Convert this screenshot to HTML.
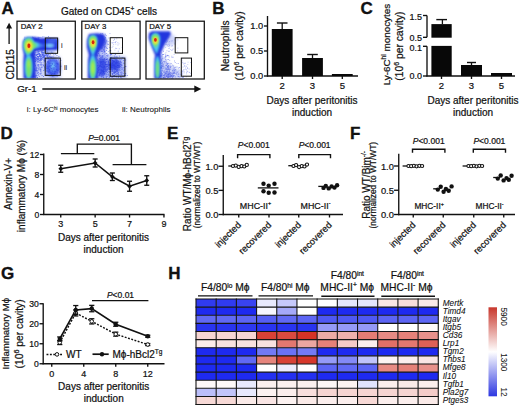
<!DOCTYPE html>
<html><head><meta charset="utf-8"><style>
html,body{margin:0;padding:0;background:#fff;}
svg{display:block;font-family:"Liberation Sans", sans-serif;}
text{fill:#111;stroke:#111;stroke-width:0.22px;}
</style></head><body>
<svg width="520" height="407" viewBox="0 0 520 407">
<text x="1.6" y="13.5" font-size="17" text-anchor="start" font-weight="bold" font-style="normal" style="stroke-width:0.35px">A</text>
<text x="212.3" y="14" font-size="17" text-anchor="start" font-weight="bold" font-style="normal" style="stroke-width:0.35px">B</text>
<text x="360.6" y="13.6" font-size="17" text-anchor="start" font-weight="bold" font-style="normal" style="stroke-width:0.35px">C</text>
<text x="0.6" y="139" font-size="17" text-anchor="start" font-weight="bold" font-style="normal" style="stroke-width:0.35px">D</text>
<text x="166.9" y="139" font-size="17" text-anchor="start" font-weight="bold" font-style="normal" style="stroke-width:0.35px">E</text>
<text x="350" y="139" font-size="17" text-anchor="start" font-weight="bold" font-style="normal" style="stroke-width:0.35px">F</text>
<text x="0.9" y="279.4" font-size="17" text-anchor="start" font-weight="bold" font-style="normal" style="stroke-width:0.35px">G</text>
<text x="168.3" y="279" font-size="17" text-anchor="start" font-weight="bold" font-style="normal" style="stroke-width:0.35px">H</text>
<text x="61" y="14.5" font-size="10" text-anchor="start" font-weight="normal" font-style="normal" >Gated on CD45<tspan dy="-3.5" font-size="6.5">+</tspan><tspan dy="3.5"> cells</tspan></text>
<defs>
<filter id="b1" x="-30%" y="-30%" width="160%" height="160%"><feGaussianBlur stdDeviation="0.8"/></filter>
<filter id="b2" x="-30%" y="-30%" width="160%" height="160%"><feGaussianBlur stdDeviation="1.6"/></filter>
<filter id="b05" x="-30%" y="-30%" width="160%" height="160%"><feGaussianBlur stdDeviation="0.5"/></filter>
<filter id="bd" x="-5%" y="-5%" width="110%" height="110%"><feGaussianBlur stdDeviation="0.35"/></filter>
<clipPath id="c1"><rect x="17.6" y="21.8" width="57.1" height="56.6"/></clipPath>
<clipPath id="c2"><rect x="82.4" y="21.8" width="57.1" height="56.6"/></clipPath>
<clipPath id="c3"><rect x="146.6" y="21.8" width="57.1" height="56.6"/></clipPath>
</defs>
<g clip-path="url(#c1)">
<path d="M31,50 L46,54 L61,57 L61,79 L30,79 Z" fill="#c4ccf8" fill-opacity="0.8" filter="url(#b2)"/>
<path d="M38.6,73.3h0.9v0.9h-0.9zM32.4,70.9h0.9v0.9h-0.9zM36.4,59.6h0.9v0.9h-0.9zM49.4,63.4h0.9v0.9h-0.9zM37.7,68.6h0.9v0.9h-0.9zM44.8,61.7h0.9v0.9h-0.9zM41.5,53.2h0.9v0.9h-0.9zM35.8,58.1h0.9v0.9h-0.9zM37.0,59.1h0.9v0.9h-0.9zM37.5,64.1h0.9v0.9h-0.9zM42.5,54.4h0.9v0.9h-0.9zM40.0,59.2h0.9v0.9h-0.9zM40.8,66.7h0.9v0.9h-0.9zM44.3,59.9h0.9v0.9h-0.9zM34.4,56.6h0.9v0.9h-0.9zM32.1,61.6h0.9v0.9h-0.9zM33.3,71.6h0.9v0.9h-0.9zM36.3,57.3h0.9v0.9h-0.9zM44.4,55.4h0.9v0.9h-0.9zM37.1,56.0h0.9v0.9h-0.9zM41.8,51.8h0.9v0.9h-0.9zM37.5,65.2h0.9v0.9h-0.9zM47.2,70.5h0.9v0.9h-0.9zM35.1,64.7h0.9v0.9h-0.9zM35.2,76.8h0.9v0.9h-0.9zM39.3,60.1h0.9v0.9h-0.9zM36.6,60.2h0.9v0.9h-0.9zM36.9,54.1h0.9v0.9h-0.9zM37.1,65.4h0.9v0.9h-0.9zM36.8,60.7h0.9v0.9h-0.9zM40.0,70.7h0.9v0.9h-0.9zM35.3,58.6h0.9v0.9h-0.9zM49.6,66.8h0.9v0.9h-0.9zM42.7,56.7h0.9v0.9h-0.9zM31.0,64.7h0.9v0.9h-0.9zM33.0,52.5h0.9v0.9h-0.9zM30.2,57.4h0.9v0.9h-0.9zM44.6,58.1h0.9v0.9h-0.9zM38.4,69.6h0.9v0.9h-0.9zM45.2,60.5h0.9v0.9h-0.9zM37.1,61.6h0.9v0.9h-0.9zM31.2,68.0h0.9v0.9h-0.9zM46.2,63.6h0.9v0.9h-0.9zM36.6,59.7h0.9v0.9h-0.9zM33.3,54.8h0.9v0.9h-0.9zM35.6,54.4h0.9v0.9h-0.9zM40.1,62.4h0.9v0.9h-0.9zM38.0,71.9h0.9v0.9h-0.9zM33.6,57.7h0.9v0.9h-0.9zM34.6,67.9h0.9v0.9h-0.9zM32.5,70.9h0.9v0.9h-0.9zM36.2,70.3h0.9v0.9h-0.9zM38.2,59.9h0.9v0.9h-0.9zM36.4,67.9h0.9v0.9h-0.9zM39.5,55.7h0.9v0.9h-0.9zM40.5,70.9h0.9v0.9h-0.9zM37.1,58.0h0.9v0.9h-0.9zM35.6,69.3h0.9v0.9h-0.9zM41.2,53.6h0.9v0.9h-0.9zM40.2,57.7h0.9v0.9h-0.9zM33.5,73.2h0.9v0.9h-0.9zM42.9,55.5h0.9v0.9h-0.9zM38.5,66.5h0.9v0.9h-0.9zM34.2,60.9h0.9v0.9h-0.9zM40.0,68.6h0.9v0.9h-0.9zM39.9,54.2h0.9v0.9h-0.9zM41.4,67.4h0.9v0.9h-0.9zM39.3,55.1h0.9v0.9h-0.9zM34.5,69.7h0.9v0.9h-0.9zM32.6,66.5h0.9v0.9h-0.9zM41.1,59.5h0.9v0.9h-0.9zM52.4,62.6h0.9v0.9h-0.9zM41.8,59.2h0.9v0.9h-0.9zM34.2,52.7h0.9v0.9h-0.9zM36.7,70.0h0.9v0.9h-0.9zM38.3,65.3h0.9v0.9h-0.9zM33.8,58.1h0.9v0.9h-0.9zM38.7,59.5h0.9v0.9h-0.9zM45.6,54.1h0.9v0.9h-0.9zM49.3,53.2h0.9v0.9h-0.9zM44.4,55.0h0.9v0.9h-0.9zM47.9,63.2h0.9v0.9h-0.9zM40.4,68.7h0.9v0.9h-0.9zM34.2,52.6h0.9v0.9h-0.9zM33.8,56.7h0.9v0.9h-0.9zM35.6,66.8h0.9v0.9h-0.9zM43.0,76.0h0.9v0.9h-0.9zM47.6,54.3h0.9v0.9h-0.9zM38.3,61.0h0.9v0.9h-0.9zM42.5,64.2h0.9v0.9h-0.9zM37.1,72.9h0.9v0.9h-0.9zM32.0,66.7h0.9v0.9h-0.9zM38.1,61.5h0.9v0.9h-0.9zM40.9,63.6h0.9v0.9h-0.9zM39.6,64.4h0.9v0.9h-0.9zM49.6,59.2h0.9v0.9h-0.9zM44.1,67.5h0.9v0.9h-0.9zM35.9,69.2h0.9v0.9h-0.9zM32.9,72.4h0.9v0.9h-0.9zM33.1,57.6h0.9v0.9h-0.9zM39.9,69.5h0.9v0.9h-0.9zM43.4,70.0h0.9v0.9h-0.9zM36.8,53.4h0.9v0.9h-0.9zM41.3,64.7h0.9v0.9h-0.9zM32.3,70.8h0.9v0.9h-0.9zM39.2,53.4h0.9v0.9h-0.9zM40.6,50.1h0.9v0.9h-0.9zM32.7,65.6h0.9v0.9h-0.9zM33.6,63.6h0.9v0.9h-0.9zM43.7,66.1h0.9v0.9h-0.9zM43.4,58.6h0.9v0.9h-0.9zM46.5,52.5h0.9v0.9h-0.9zM37.5,72.0h0.9v0.9h-0.9zM45.9,73.5h0.9v0.9h-0.9zM37.2,50.5h0.9v0.9h-0.9zM44.4,69.2h0.9v0.9h-0.9zM41.3,62.2h0.9v0.9h-0.9zM38.3,59.3h0.9v0.9h-0.9zM40.3,64.2h0.9v0.9h-0.9zM40.8,58.1h0.9v0.9h-0.9zM49.4,64.5h0.9v0.9h-0.9zM46.4,74.0h0.9v0.9h-0.9zM45.5,58.5h0.9v0.9h-0.9zM38.5,59.7h0.9v0.9h-0.9zM38.8,51.3h0.9v0.9h-0.9zM37.4,57.8h0.9v0.9h-0.9zM42.9,65.0h0.9v0.9h-0.9zM38.2,67.7h0.9v0.9h-0.9zM38.0,74.5h0.9v0.9h-0.9zM38.1,53.0h0.9v0.9h-0.9zM33.9,68.7h0.9v0.9h-0.9zM34.3,69.6h0.9v0.9h-0.9zM44.1,67.3h0.9v0.9h-0.9zM44.1,60.4h0.9v0.9h-0.9zM37.9,56.7h0.9v0.9h-0.9zM34.7,52.4h0.9v0.9h-0.9zM40.7,58.9h0.9v0.9h-0.9zM46.2,70.5h0.9v0.9h-0.9zM44.3,56.6h0.9v0.9h-0.9zM39.8,68.5h0.9v0.9h-0.9zM40.5,73.3h0.9v0.9h-0.9zM36.3,68.0h0.9v0.9h-0.9zM35.3,75.5h0.9v0.9h-0.9zM33.9,58.4h0.9v0.9h-0.9zM38.3,63.9h0.9v0.9h-0.9zM32.2,63.1h0.9v0.9h-0.9zM40.7,69.5h0.9v0.9h-0.9zM33.5,76.0h0.9v0.9h-0.9zM41.3,51.7h0.9v0.9h-0.9zM41.8,54.9h0.9v0.9h-0.9zM33.8,63.3h0.9v0.9h-0.9zM38.9,76.2h0.9v0.9h-0.9zM40.7,56.7h0.9v0.9h-0.9zM39.7,68.5h0.9v0.9h-0.9zM41.6,75.0h0.9v0.9h-0.9zM35.6,70.7h0.9v0.9h-0.9zM37.7,58.2h0.9v0.9h-0.9zM47.5,71.4h0.9v0.9h-0.9zM36.5,70.2h0.9v0.9h-0.9zM30.1,55.5h0.9v0.9h-0.9zM43.4,62.4h0.9v0.9h-0.9zM31.6,66.0h0.9v0.9h-0.9zM40.0,73.6h0.9v0.9h-0.9zM43.7,59.5h0.9v0.9h-0.9zM35.1,60.8h0.9v0.9h-0.9zM36.6,75.2h0.9v0.9h-0.9zM47.5,74.2h0.9v0.9h-0.9zM40.3,59.8h0.9v0.9h-0.9zM43.4,58.9h0.9v0.9h-0.9zM35.5,75.0h0.9v0.9h-0.9zM37.0,77.0h0.9v0.9h-0.9zM46.7,58.8h0.9v0.9h-0.9zM35.1,61.0h0.9v0.9h-0.9zM32.4,62.3h0.9v0.9h-0.9zM34.5,59.7h0.9v0.9h-0.9zM32.8,51.9h0.9v0.9h-0.9zM36.3,58.2h0.9v0.9h-0.9zM41.0,59.9h0.9v0.9h-0.9zM33.3,74.5h0.9v0.9h-0.9zM31.8,55.4h0.9v0.9h-0.9zM34.0,54.0h0.9v0.9h-0.9zM36.6,67.2h0.9v0.9h-0.9zM46.6,68.0h0.9v0.9h-0.9zM38.2,50.7h0.9v0.9h-0.9zM37.6,53.5h0.9v0.9h-0.9zM37.4,70.8h0.9v0.9h-0.9zM39.2,60.1h0.9v0.9h-0.9zM33.5,61.8h0.9v0.9h-0.9zM38.7,53.6h0.9v0.9h-0.9zM35.0,69.9h0.9v0.9h-0.9zM31.0,75.9h0.9v0.9h-0.9zM41.6,66.6h0.9v0.9h-0.9zM40.4,64.6h0.9v0.9h-0.9zM39.5,67.3h0.9v0.9h-0.9zM35.2,59.2h0.9v0.9h-0.9zM34.8,65.5h0.9v0.9h-0.9zM30.3,60.0h0.9v0.9h-0.9zM39.4,68.5h0.9v0.9h-0.9zM38.3,59.8h0.9v0.9h-0.9zM43.6,59.2h0.9v0.9h-0.9zM30.5,58.1h0.9v0.9h-0.9zM36.0,55.0h0.9v0.9h-0.9zM42.4,54.0h0.9v0.9h-0.9zM30.2,53.4h0.9v0.9h-0.9zM48.3,62.2h0.9v0.9h-0.9zM34.3,53.1h0.9v0.9h-0.9zM31.4,60.5h0.9v0.9h-0.9zM40.6,72.4h0.9v0.9h-0.9zM44.9,64.4h0.9v0.9h-0.9zM34.0,54.3h0.9v0.9h-0.9zM40.5,59.0h0.9v0.9h-0.9zM43.4,64.7h0.9v0.9h-0.9zM38.3,65.6h0.9v0.9h-0.9zM32.6,78.3h0.9v0.9h-0.9zM36.9,57.5h0.9v0.9h-0.9zM43.1,52.5h0.9v0.9h-0.9zM46.5,55.7h0.9v0.9h-0.9zM37.6,53.8h0.9v0.9h-0.9zM42.1,54.6h0.9v0.9h-0.9zM38.3,51.6h0.9v0.9h-0.9z" fill="#2a40e6" fill-opacity="0.65" filter="url(#bd)"/>
<path d="M44.4,55.6h0.9v0.9h-0.9zM46.5,55.9h0.9v0.9h-0.9zM46.7,58.0h0.9v0.9h-0.9zM40.7,51.5h0.9v0.9h-0.9zM35.3,57.0h0.9v0.9h-0.9zM40.7,58.2h0.9v0.9h-0.9zM43.3,52.0h0.9v0.9h-0.9zM48.4,60.8h0.9v0.9h-0.9zM41.9,52.2h0.9v0.9h-0.9zM37.9,57.7h0.9v0.9h-0.9zM39.5,53.8h0.9v0.9h-0.9zM47.1,55.0h0.9v0.9h-0.9zM43.7,53.4h0.9v0.9h-0.9zM39.2,55.5h0.9v0.9h-0.9zM43.9,56.8h0.9v0.9h-0.9zM40.0,56.0h0.9v0.9h-0.9zM45.9,55.2h0.9v0.9h-0.9zM46.4,58.0h0.9v0.9h-0.9zM44.2,55.2h0.9v0.9h-0.9zM37.2,56.0h0.9v0.9h-0.9zM42.4,54.1h0.9v0.9h-0.9zM38.0,56.7h0.9v0.9h-0.9zM58.4,56.3h0.9v0.9h-0.9zM43.5,56.3h0.9v0.9h-0.9zM39.4,55.3h0.9v0.9h-0.9zM39.0,53.1h0.9v0.9h-0.9zM44.4,55.7h0.9v0.9h-0.9zM42.3,52.6h0.9v0.9h-0.9zM44.6,51.7h0.9v0.9h-0.9zM47.6,54.0h0.9v0.9h-0.9zM43.0,57.4h0.9v0.9h-0.9zM46.3,51.1h0.9v0.9h-0.9zM41.5,56.1h0.9v0.9h-0.9zM42.6,54.9h0.9v0.9h-0.9zM45.6,55.2h0.9v0.9h-0.9zM43.8,55.7h0.9v0.9h-0.9zM51.2,56.5h0.9v0.9h-0.9zM46.3,53.8h0.9v0.9h-0.9zM49.7,54.4h0.9v0.9h-0.9zM44.5,54.7h0.9v0.9h-0.9zM40.2,58.9h0.9v0.9h-0.9zM45.4,54.6h0.9v0.9h-0.9zM39.9,60.6h0.9v0.9h-0.9zM47.5,57.0h0.9v0.9h-0.9zM38.4,58.9h0.9v0.9h-0.9zM46.3,54.2h0.9v0.9h-0.9zM42.4,50.1h0.9v0.9h-0.9zM46.9,51.7h0.9v0.9h-0.9zM48.1,53.7h0.9v0.9h-0.9zM39.3,56.1h0.9v0.9h-0.9zM44.3,51.6h0.9v0.9h-0.9zM42.6,56.8h0.9v0.9h-0.9zM41.5,51.0h0.9v0.9h-0.9zM41.5,52.1h0.9v0.9h-0.9zM39.5,55.1h0.9v0.9h-0.9zM42.7,54.4h0.9v0.9h-0.9zM33.1,56.0h0.9v0.9h-0.9zM41.8,53.8h0.9v0.9h-0.9zM43.9,60.8h0.9v0.9h-0.9zM35.3,50.2h0.9v0.9h-0.9zM47.6,52.6h0.9v0.9h-0.9zM50.8,52.1h0.9v0.9h-0.9zM40.1,57.5h0.9v0.9h-0.9zM48.4,56.3h0.9v0.9h-0.9zM45.7,54.6h0.9v0.9h-0.9zM40.4,54.4h0.9v0.9h-0.9zM50.6,57.1h0.9v0.9h-0.9zM43.1,55.9h0.9v0.9h-0.9zM48.0,58.5h0.9v0.9h-0.9zM42.2,54.8h0.9v0.9h-0.9zM44.4,58.8h0.9v0.9h-0.9zM33.8,57.5h0.9v0.9h-0.9zM34.6,51.8h0.9v0.9h-0.9zM39.2,54.6h0.9v0.9h-0.9zM44.1,56.1h0.9v0.9h-0.9zM44.3,53.7h0.9v0.9h-0.9zM58.5,56.2h0.9v0.9h-0.9zM47.0,61.0h0.9v0.9h-0.9zM48.8,56.7h0.9v0.9h-0.9zM44.9,60.6h0.9v0.9h-0.9zM36.6,52.1h0.9v0.9h-0.9zM38.4,58.4h0.9v0.9h-0.9zM40.3,55.5h0.9v0.9h-0.9zM47.1,51.5h0.9v0.9h-0.9zM44.6,53.1h0.9v0.9h-0.9zM36.5,54.2h0.9v0.9h-0.9zM42.7,53.8h0.9v0.9h-0.9zM39.1,57.8h0.9v0.9h-0.9zM49.9,56.7h0.9v0.9h-0.9zM42.4,51.9h0.9v0.9h-0.9zM38.1,51.7h0.9v0.9h-0.9zM44.2,57.7h0.9v0.9h-0.9zM48.4,54.9h0.9v0.9h-0.9zM40.7,55.5h0.9v0.9h-0.9zM43.7,56.8h0.9v0.9h-0.9zM51.8,53.0h0.9v0.9h-0.9zM32.4,50.5h0.9v0.9h-0.9zM36.9,54.3h0.9v0.9h-0.9zM55.3,52.9h0.9v0.9h-0.9zM49.6,53.9h0.9v0.9h-0.9zM43.9,52.0h0.9v0.9h-0.9zM56.5,54.9h0.9v0.9h-0.9zM39.3,61.8h0.9v0.9h-0.9zM44.1,56.2h0.9v0.9h-0.9zM42.1,52.5h0.9v0.9h-0.9zM34.5,54.5h0.9v0.9h-0.9zM52.6,56.3h0.9v0.9h-0.9zM42.0,58.2h0.9v0.9h-0.9zM37.5,59.1h0.9v0.9h-0.9zM42.9,52.5h0.9v0.9h-0.9zM47.0,56.5h0.9v0.9h-0.9zM41.0,55.6h0.9v0.9h-0.9zM48.8,59.2h0.9v0.9h-0.9zM55.2,54.2h0.9v0.9h-0.9zM40.5,56.3h0.9v0.9h-0.9zM40.5,58.1h0.9v0.9h-0.9zM35.6,54.4h0.9v0.9h-0.9zM35.5,59.5h0.9v0.9h-0.9zM41.5,58.3h0.9v0.9h-0.9zM51.2,51.4h0.9v0.9h-0.9zM41.7,57.1h0.9v0.9h-0.9zM43.3,54.6h0.9v0.9h-0.9zM48.0,57.7h0.9v0.9h-0.9zM39.5,54.6h0.9v0.9h-0.9zM46.9,55.6h0.9v0.9h-0.9zM43.8,51.7h0.9v0.9h-0.9zM53.4,54.3h0.9v0.9h-0.9zM44.6,54.9h0.9v0.9h-0.9zM43.4,55.4h0.9v0.9h-0.9zM38.0,56.1h0.9v0.9h-0.9zM50.2,56.2h0.9v0.9h-0.9zM47.3,56.4h0.9v0.9h-0.9zM43.2,60.4h0.9v0.9h-0.9zM38.9,56.1h0.9v0.9h-0.9zM49.1,55.9h0.9v0.9h-0.9zM36.7,51.8h0.9v0.9h-0.9zM52.3,52.2h0.9v0.9h-0.9zM43.1,56.6h0.9v0.9h-0.9zM31.7,54.7h0.9v0.9h-0.9zM38.4,54.2h0.9v0.9h-0.9z" fill="#2a40e6" fill-opacity="0.65" filter="url(#bd)"/>
<path d="M36.5,40.4h0.9v0.9h-0.9zM41.6,38.4h0.9v0.9h-0.9zM39.2,36.9h0.9v0.9h-0.9zM29.8,41.5h0.9v0.9h-0.9zM37.8,41.4h0.9v0.9h-0.9zM30.1,39.3h0.9v0.9h-0.9zM32.1,42.2h0.9v0.9h-0.9zM38.2,37.4h0.9v0.9h-0.9zM39.4,39.6h0.9v0.9h-0.9zM33.1,42.8h0.9v0.9h-0.9zM26.0,42.6h0.9v0.9h-0.9zM34.9,39.6h0.9v0.9h-0.9zM29.2,38.6h0.9v0.9h-0.9zM31.2,40.2h0.9v0.9h-0.9zM43.1,42.2h0.9v0.9h-0.9zM31.0,42.2h0.9v0.9h-0.9zM48.1,36.1h0.9v0.9h-0.9zM33.5,38.7h0.9v0.9h-0.9zM39.3,39.2h0.9v0.9h-0.9zM27.6,43.1h0.9v0.9h-0.9zM34.1,41.8h0.9v0.9h-0.9zM49.7,38.1h0.9v0.9h-0.9zM33.5,42.3h0.9v0.9h-0.9zM35.4,41.3h0.9v0.9h-0.9zM39.8,40.9h0.9v0.9h-0.9zM36.8,41.0h0.9v0.9h-0.9zM26.2,39.3h0.9v0.9h-0.9zM40.5,37.0h0.9v0.9h-0.9zM36.3,39.8h0.9v0.9h-0.9zM40.3,40.8h0.9v0.9h-0.9zM31.3,40.2h0.9v0.9h-0.9zM34.2,39.8h0.9v0.9h-0.9zM32.0,36.8h0.9v0.9h-0.9zM37.3,40.7h0.9v0.9h-0.9zM36.2,38.4h0.9v0.9h-0.9zM37.3,39.4h0.9v0.9h-0.9zM43.2,39.2h0.9v0.9h-0.9zM33.9,40.8h0.9v0.9h-0.9zM35.4,41.3h0.9v0.9h-0.9zM37.9,41.0h0.9v0.9h-0.9zM39.5,40.8h0.9v0.9h-0.9zM40.5,39.8h0.9v0.9h-0.9zM26.7,40.4h0.9v0.9h-0.9zM35.5,40.5h0.9v0.9h-0.9zM30.4,43.4h0.9v0.9h-0.9zM37.6,36.8h0.9v0.9h-0.9zM28.7,40.7h0.9v0.9h-0.9zM29.1,41.1h0.9v0.9h-0.9zM38.0,38.5h0.9v0.9h-0.9zM24.4,36.8h0.9v0.9h-0.9zM38.2,38.7h0.9v0.9h-0.9zM47.2,38.9h0.9v0.9h-0.9zM38.3,41.7h0.9v0.9h-0.9zM36.6,40.8h0.9v0.9h-0.9zM42.1,39.7h0.9v0.9h-0.9zM38.1,39.1h0.9v0.9h-0.9zM48.1,40.4h0.9v0.9h-0.9zM33.1,37.2h0.9v0.9h-0.9zM36.3,38.9h0.9v0.9h-0.9zM29.7,39.3h0.9v0.9h-0.9zM40.9,42.7h0.9v0.9h-0.9zM32.8,42.7h0.9v0.9h-0.9zM32.3,41.6h0.9v0.9h-0.9zM30.9,42.6h0.9v0.9h-0.9zM50.0,39.3h0.9v0.9h-0.9zM43.4,36.4h0.9v0.9h-0.9zM35.6,41.3h0.9v0.9h-0.9zM26.3,40.0h0.9v0.9h-0.9zM31.3,43.0h0.9v0.9h-0.9zM29.5,40.8h0.9v0.9h-0.9zM24.0,39.0h0.9v0.9h-0.9zM43.3,39.7h0.9v0.9h-0.9zM28.2,41.2h0.9v0.9h-0.9zM41.7,41.1h0.9v0.9h-0.9zM42.0,36.5h0.9v0.9h-0.9zM47.0,41.8h0.9v0.9h-0.9zM33.2,41.3h0.9v0.9h-0.9zM24.1,38.4h0.9v0.9h-0.9zM25.1,42.1h0.9v0.9h-0.9zM34.6,37.7h0.9v0.9h-0.9z" fill="#3a4ee6" fill-opacity="0.55" filter="url(#bd)"/>
<ellipse cx="53" cy="67.5" rx="7.5" ry="9.5" fill="#3550ea" fill-opacity="0.95" filter="url(#b2)"/>
<ellipse cx="53" cy="66.5" rx="3.4" ry="6.2" fill="#5a86f2" fill-opacity="0.95" filter="url(#b1)"/>
<ellipse cx="52.8" cy="66" rx="1.8" ry="3.6" fill="#74c4f6" fill-opacity="0.9" filter="url(#b1)"/>
<path d="M51.1,73.8h0.9v0.9h-0.9zM49.1,70.4h0.9v0.9h-0.9zM50.6,65.3h0.9v0.9h-0.9zM53.9,72.7h0.9v0.9h-0.9zM50.9,64.8h0.9v0.9h-0.9zM56.8,69.6h0.9v0.9h-0.9zM52.7,68.4h0.9v0.9h-0.9zM45.0,64.9h0.9v0.9h-0.9zM57.6,63.6h0.9v0.9h-0.9zM52.0,64.2h0.9v0.9h-0.9zM56.6,63.0h0.9v0.9h-0.9zM52.3,70.8h0.9v0.9h-0.9zM56.0,59.7h0.9v0.9h-0.9zM54.0,67.7h0.9v0.9h-0.9zM52.6,67.6h0.9v0.9h-0.9zM54.6,63.7h0.9v0.9h-0.9zM52.2,72.9h0.9v0.9h-0.9zM47.7,66.5h0.9v0.9h-0.9zM47.9,60.6h0.9v0.9h-0.9zM50.9,68.1h0.9v0.9h-0.9zM60.6,65.8h0.9v0.9h-0.9zM57.7,70.2h0.9v0.9h-0.9zM53.6,67.3h0.9v0.9h-0.9zM47.8,67.8h0.9v0.9h-0.9zM60.4,60.1h0.9v0.9h-0.9zM50.4,72.4h0.9v0.9h-0.9zM54.5,72.7h0.9v0.9h-0.9zM59.1,71.5h0.9v0.9h-0.9zM46.5,65.8h0.9v0.9h-0.9zM56.1,69.2h0.9v0.9h-0.9zM49.0,65.8h0.9v0.9h-0.9zM60.3,66.0h0.9v0.9h-0.9zM49.7,66.3h0.9v0.9h-0.9zM57.1,72.5h0.9v0.9h-0.9zM49.6,63.2h0.9v0.9h-0.9zM58.1,59.3h0.9v0.9h-0.9zM53.5,69.0h0.9v0.9h-0.9zM49.1,69.1h0.9v0.9h-0.9zM55.0,77.9h0.9v0.9h-0.9zM55.3,65.8h0.9v0.9h-0.9zM57.3,63.9h0.9v0.9h-0.9zM53.8,70.7h0.9v0.9h-0.9zM58.7,68.7h0.9v0.9h-0.9zM45.7,74.8h0.9v0.9h-0.9zM53.9,65.2h0.9v0.9h-0.9zM49.0,70.5h0.9v0.9h-0.9zM54.7,71.1h0.9v0.9h-0.9zM52.4,76.2h0.9v0.9h-0.9zM51.7,69.5h0.9v0.9h-0.9zM54.0,73.4h0.9v0.9h-0.9zM49.6,65.2h0.9v0.9h-0.9zM51.9,63.0h0.9v0.9h-0.9zM49.7,59.8h0.9v0.9h-0.9zM56.7,75.9h0.9v0.9h-0.9zM48.1,71.6h0.9v0.9h-0.9zM47.3,62.1h0.9v0.9h-0.9zM51.4,67.7h0.9v0.9h-0.9zM46.4,67.5h0.9v0.9h-0.9zM51.6,63.1h0.9v0.9h-0.9zM49.9,67.4h0.9v0.9h-0.9z" fill="#2030d8" fill-opacity="0.5" filter="url(#bd)"/>
<path d="M32,38.5 L45,38 L58,38.5 L58,50 L45,51 L32,51 Z" fill="#2436de" fill-opacity="1" filter="url(#b1)"/>
<ellipse cx="52" cy="41" rx="5" ry="2" fill="#4a6cec" fill-opacity="0.8" filter="url(#b1)"/>
<ellipse cx="50" cy="51.5" rx="6" ry="1.5" fill="#8fa4f4" fill-opacity="0.8" filter="url(#b1)"/>
<ellipse cx="49.8" cy="45.5" rx="5.2" ry="2.4" fill="#5a86f2" fill-opacity="1" filter="url(#b1)"/>
<ellipse cx="49.8" cy="45.5" rx="3.2" ry="1.5" fill="#78d0f6" fill-opacity="0.95" filter="url(#b1)"/>
<ellipse cx="38" cy="45.5" rx="6" ry="2.2" fill="#4a80ee" fill-opacity="0.9" filter="url(#b1)"/>
<path d="M23,41 L26,37.3 L34,37 L40,38.5 L37,47 L35,52 L35.5,58 L36,79 L23.5,79 L23.3,62 L23.8,54 L22.6,48 Z" fill="#2436de" fill-opacity="1" filter="url(#b1)"/>
<path d="M23.05,44.25 A5.75,6.8999999999999995 0 0 1 34.55,44.25 C34.55,49.9875 29.525000000000002,54.45 27.8,57 C26.075,54.45 23.05,49.9875 23.05,44.25 Z" fill="#4cc8f0" fill-opacity="1" filter="url(#b1)"/>
<ellipse cx="35" cy="45" rx="4.5" ry="3" fill="#4cc8f0" fill-opacity="0.95" filter="url(#b1)"/>
<ellipse cx="32.5" cy="45.5" rx="4" ry="3" fill="#78e468" fill-opacity="0.9" filter="url(#b1)"/>
<path d="M24.0,44.2 A4.7,5.64 0 0 1 33.4,44.2 C33.4,49.06 29.61,52.84 28.2,55 C26.79,52.84 24.0,49.06 24.0,44.2 Z" fill="#78e468" fill-opacity="1" filter="url(#b1)"/>
<ellipse cx="29" cy="46.2" rx="3.4" ry="5.2" fill="#f0f03c" fill-opacity="1" filter="url(#b1)"/>
<ellipse cx="29" cy="46" rx="2.2" ry="3.2" fill="#f8b030" fill-opacity="0.8" filter="url(#b1)"/>
<ellipse cx="28.9" cy="45.8" rx="1.5" ry="2.3" fill="#d8260f" fill-opacity="1" filter="url(#b05)"/>
<ellipse cx="28.6" cy="67" rx="3.9" ry="12.5" fill="#4cc8f0" fill-opacity="1" filter="url(#b1)"/>
<ellipse cx="28.7" cy="67.5" rx="2.6" ry="9.8" fill="#78e468" fill-opacity="1" filter="url(#b1)"/>
<ellipse cx="28.7" cy="64" rx="1.2" ry="3.5" fill="#b8f048" fill-opacity="0.6" filter="url(#b1)"/>
</g>
<g clip-path="url(#c2)">
<path d="M97,50 L106,54 L126,57 L126,79 L96,79 Z" fill="#a8b6f6" fill-opacity="0.85" filter="url(#b2)"/>
<ellipse cx="114.5" cy="65" rx="6" ry="6" fill="#3046e6" fill-opacity="0.9" filter="url(#b2)"/>
<ellipse cx="102" cy="67" rx="5" ry="10" fill="#3046e6" fill-opacity="0.85" filter="url(#b2)"/>
<ellipse cx="103" cy="44" rx="4" ry="8" fill="#3a50e8" fill-opacity="0.6" filter="url(#b2)"/>
<path d="M115.1,61.7h0.9v0.9h-0.9zM115.3,59.1h0.9v0.9h-0.9zM120.8,71.6h0.9v0.9h-0.9zM119.4,61.5h0.9v0.9h-0.9zM106.3,64.1h0.9v0.9h-0.9zM110.5,69.3h0.9v0.9h-0.9zM107.9,61.4h0.9v0.9h-0.9zM116.6,69.5h0.9v0.9h-0.9zM116.4,59.4h0.9v0.9h-0.9zM112.6,79.0h0.9v0.9h-0.9zM120.7,62.0h0.9v0.9h-0.9zM125.5,66.2h0.9v0.9h-0.9zM115.9,62.0h0.9v0.9h-0.9zM123.5,67.6h0.9v0.9h-0.9zM115.6,61.4h0.9v0.9h-0.9zM109.6,68.0h0.9v0.9h-0.9zM116.0,76.3h0.9v0.9h-0.9zM111.4,64.7h0.9v0.9h-0.9zM120.9,71.8h0.9v0.9h-0.9zM112.6,75.7h0.9v0.9h-0.9zM118.3,72.3h0.9v0.9h-0.9zM117.7,72.8h0.9v0.9h-0.9zM113.9,65.7h0.9v0.9h-0.9zM121.4,69.3h0.9v0.9h-0.9zM117.8,73.8h0.9v0.9h-0.9zM117.1,69.4h0.9v0.9h-0.9zM105.0,63.8h0.9v0.9h-0.9zM120.1,61.7h0.9v0.9h-0.9zM114.5,68.3h0.9v0.9h-0.9zM115.3,72.1h0.9v0.9h-0.9zM118.3,65.9h0.9v0.9h-0.9zM121.4,64.8h0.9v0.9h-0.9zM112.4,68.9h0.9v0.9h-0.9zM119.1,66.1h0.9v0.9h-0.9zM110.6,63.9h0.9v0.9h-0.9zM117.1,71.0h0.9v0.9h-0.9zM124.8,66.0h0.9v0.9h-0.9zM114.9,54.1h0.9v0.9h-0.9zM122.3,72.4h0.9v0.9h-0.9zM116.0,62.7h0.9v0.9h-0.9zM103.0,71.3h0.9v0.9h-0.9zM112.1,76.0h0.9v0.9h-0.9zM119.8,74.7h0.9v0.9h-0.9zM115.3,74.1h0.9v0.9h-0.9zM109.0,75.7h0.9v0.9h-0.9zM115.8,59.9h0.9v0.9h-0.9zM114.0,61.1h0.9v0.9h-0.9zM117.3,62.6h0.9v0.9h-0.9zM109.6,64.8h0.9v0.9h-0.9zM114.8,68.2h0.9v0.9h-0.9zM119.4,74.5h0.9v0.9h-0.9zM118.0,76.8h0.9v0.9h-0.9zM103.6,66.5h0.9v0.9h-0.9zM120.6,59.1h0.9v0.9h-0.9zM115.0,68.3h0.9v0.9h-0.9zM108.2,63.5h0.9v0.9h-0.9zM119.0,65.1h0.9v0.9h-0.9zM115.6,60.1h0.9v0.9h-0.9zM115.8,63.6h0.9v0.9h-0.9zM108.9,64.6h0.9v0.9h-0.9zM113.6,64.8h0.9v0.9h-0.9zM120.6,73.4h0.9v0.9h-0.9zM118.0,64.8h0.9v0.9h-0.9zM118.1,67.1h0.9v0.9h-0.9zM117.1,61.2h0.9v0.9h-0.9zM100.6,72.3h0.9v0.9h-0.9zM113.0,64.0h0.9v0.9h-0.9zM115.9,66.6h0.9v0.9h-0.9zM114.5,76.1h0.9v0.9h-0.9zM116.6,68.4h0.9v0.9h-0.9zM111.6,66.4h0.9v0.9h-0.9zM118.3,66.5h0.9v0.9h-0.9zM117.6,61.4h0.9v0.9h-0.9zM117.9,60.9h0.9v0.9h-0.9zM113.8,62.4h0.9v0.9h-0.9zM116.9,73.5h0.9v0.9h-0.9zM117.4,61.7h0.9v0.9h-0.9zM116.7,73.2h0.9v0.9h-0.9zM119.6,70.0h0.9v0.9h-0.9zM110.4,63.7h0.9v0.9h-0.9zM112.6,64.1h0.9v0.9h-0.9zM117.1,67.2h0.9v0.9h-0.9zM114.2,70.4h0.9v0.9h-0.9zM112.4,65.0h0.9v0.9h-0.9zM116.5,58.9h0.9v0.9h-0.9zM111.7,58.7h0.9v0.9h-0.9zM110.8,66.1h0.9v0.9h-0.9zM115.4,69.0h0.9v0.9h-0.9zM117.6,60.2h0.9v0.9h-0.9zM125.3,75.0h0.9v0.9h-0.9zM109.9,62.9h0.9v0.9h-0.9zM113.6,68.2h0.9v0.9h-0.9zM119.0,67.0h0.9v0.9h-0.9zM120.2,71.9h0.9v0.9h-0.9zM112.3,67.6h0.9v0.9h-0.9zM120.6,64.2h0.9v0.9h-0.9zM121.6,67.5h0.9v0.9h-0.9zM123.8,67.3h0.9v0.9h-0.9zM123.4,57.4h0.9v0.9h-0.9zM123.2,69.7h0.9v0.9h-0.9zM114.1,73.4h0.9v0.9h-0.9zM114.7,71.9h0.9v0.9h-0.9zM120.7,73.2h0.9v0.9h-0.9zM127.0,75.2h0.9v0.9h-0.9zM116.7,69.3h0.9v0.9h-0.9zM115.8,59.6h0.9v0.9h-0.9zM116.7,59.9h0.9v0.9h-0.9zM114.6,65.2h0.9v0.9h-0.9zM113.2,60.6h0.9v0.9h-0.9zM116.5,66.8h0.9v0.9h-0.9zM122.8,70.7h0.9v0.9h-0.9zM120.7,64.2h0.9v0.9h-0.9zM114.4,59.5h0.9v0.9h-0.9zM111.7,71.3h0.9v0.9h-0.9zM115.0,66.1h0.9v0.9h-0.9zM113.2,76.2h0.9v0.9h-0.9zM115.7,73.8h0.9v0.9h-0.9zM115.8,72.6h0.9v0.9h-0.9zM111.2,59.0h0.9v0.9h-0.9zM121.5,65.2h0.9v0.9h-0.9zM117.3,72.2h0.9v0.9h-0.9zM119.5,68.6h0.9v0.9h-0.9zM110.1,62.8h0.9v0.9h-0.9zM116.2,70.8h0.9v0.9h-0.9zM118.6,69.2h0.9v0.9h-0.9zM112.2,67.0h0.9v0.9h-0.9zM120.8,61.8h0.9v0.9h-0.9zM113.1,72.4h0.9v0.9h-0.9zM123.9,69.4h0.9v0.9h-0.9zM116.0,61.3h0.9v0.9h-0.9zM115.4,62.3h0.9v0.9h-0.9zM116.7,71.2h0.9v0.9h-0.9zM118.2,74.7h0.9v0.9h-0.9zM110.9,59.5h0.9v0.9h-0.9zM122.8,73.2h0.9v0.9h-0.9zM111.2,67.8h0.9v0.9h-0.9zM110.7,66.9h0.9v0.9h-0.9zM117.5,72.7h0.9v0.9h-0.9zM111.2,59.4h0.9v0.9h-0.9zM118.8,65.0h0.9v0.9h-0.9zM123.0,60.2h0.9v0.9h-0.9zM121.6,74.9h0.9v0.9h-0.9zM118.1,65.2h0.9v0.9h-0.9zM106.0,58.9h0.9v0.9h-0.9zM113.4,78.4h0.9v0.9h-0.9zM120.4,63.4h0.9v0.9h-0.9zM118.1,70.3h0.9v0.9h-0.9zM118.5,61.5h0.9v0.9h-0.9zM113.8,72.9h0.9v0.9h-0.9zM119.4,65.0h0.9v0.9h-0.9zM114.0,72.4h0.9v0.9h-0.9zM120.0,66.3h0.9v0.9h-0.9zM125.0,73.4h0.9v0.9h-0.9zM116.1,71.2h0.9v0.9h-0.9zM119.3,65.3h0.9v0.9h-0.9zM119.7,63.9h0.9v0.9h-0.9zM114.9,71.0h0.9v0.9h-0.9zM109.8,65.0h0.9v0.9h-0.9zM111.2,71.3h0.9v0.9h-0.9zM113.2,77.9h0.9v0.9h-0.9zM123.7,62.9h0.9v0.9h-0.9zM116.8,64.9h0.9v0.9h-0.9zM116.0,71.0h0.9v0.9h-0.9zM125.2,59.5h0.9v0.9h-0.9zM113.7,65.9h0.9v0.9h-0.9zM114.5,67.9h0.9v0.9h-0.9zM119.2,64.3h0.9v0.9h-0.9zM113.2,75.2h0.9v0.9h-0.9zM124.4,75.0h0.9v0.9h-0.9zM112.3,70.3h0.9v0.9h-0.9zM112.2,60.4h0.9v0.9h-0.9zM116.0,70.1h0.9v0.9h-0.9zM115.0,66.4h0.9v0.9h-0.9zM119.2,63.0h0.9v0.9h-0.9zM118.2,71.7h0.9v0.9h-0.9zM119.3,70.4h0.9v0.9h-0.9zM111.1,65.4h0.9v0.9h-0.9zM113.9,71.3h0.9v0.9h-0.9zM107.3,67.9h0.9v0.9h-0.9zM108.1,70.9h0.9v0.9h-0.9zM113.5,67.3h0.9v0.9h-0.9zM120.7,77.2h0.9v0.9h-0.9zM111.1,67.8h0.9v0.9h-0.9zM106.4,65.9h0.9v0.9h-0.9zM112.6,71.0h0.9v0.9h-0.9zM115.5,67.7h0.9v0.9h-0.9zM110.5,65.1h0.9v0.9h-0.9zM110.5,67.2h0.9v0.9h-0.9zM108.2,68.6h0.9v0.9h-0.9zM123.5,74.9h0.9v0.9h-0.9zM120.0,76.5h0.9v0.9h-0.9zM115.9,69.4h0.9v0.9h-0.9zM106.8,64.1h0.9v0.9h-0.9zM121.8,56.9h0.9v0.9h-0.9zM117.6,66.7h0.9v0.9h-0.9zM114.3,69.0h0.9v0.9h-0.9zM116.2,60.4h0.9v0.9h-0.9zM115.7,56.3h0.9v0.9h-0.9zM123.5,66.9h0.9v0.9h-0.9zM120.5,61.7h0.9v0.9h-0.9zM125.2,73.1h0.9v0.9h-0.9zM117.8,68.4h0.9v0.9h-0.9zM118.0,62.7h0.9v0.9h-0.9zM115.4,65.8h0.9v0.9h-0.9zM117.9,76.2h0.9v0.9h-0.9zM121.8,68.7h0.9v0.9h-0.9zM119.2,65.4h0.9v0.9h-0.9zM113.7,57.5h0.9v0.9h-0.9zM109.8,60.0h0.9v0.9h-0.9zM115.7,66.0h0.9v0.9h-0.9zM118.2,73.9h0.9v0.9h-0.9zM119.4,66.2h0.9v0.9h-0.9zM113.8,65.4h0.9v0.9h-0.9zM119.1,61.7h0.9v0.9h-0.9zM108.6,65.8h0.9v0.9h-0.9zM121.3,74.3h0.9v0.9h-0.9zM119.1,55.7h0.9v0.9h-0.9zM115.3,71.3h0.9v0.9h-0.9zM121.5,78.1h0.9v0.9h-0.9zM111.4,69.3h0.9v0.9h-0.9zM108.3,65.8h0.9v0.9h-0.9zM114.1,71.9h0.9v0.9h-0.9zM116.9,56.7h0.9v0.9h-0.9zM115.4,69.2h0.9v0.9h-0.9zM123.3,62.8h0.9v0.9h-0.9zM111.8,63.6h0.9v0.9h-0.9zM121.1,65.4h0.9v0.9h-0.9zM116.5,69.7h0.9v0.9h-0.9zM112.0,73.5h0.9v0.9h-0.9zM108.0,77.9h0.9v0.9h-0.9zM112.7,61.6h0.9v0.9h-0.9zM112.4,60.1h0.9v0.9h-0.9zM111.7,62.3h0.9v0.9h-0.9zM110.2,66.0h0.9v0.9h-0.9zM117.6,63.6h0.9v0.9h-0.9zM116.9,62.1h0.9v0.9h-0.9zM117.1,65.1h0.9v0.9h-0.9zM110.6,67.6h0.9v0.9h-0.9zM115.2,63.1h0.9v0.9h-0.9zM115.8,70.2h0.9v0.9h-0.9zM109.9,64.0h0.9v0.9h-0.9zM119.1,67.0h0.9v0.9h-0.9zM109.8,69.2h0.9v0.9h-0.9zM114.2,75.5h0.9v0.9h-0.9zM118.9,58.7h0.9v0.9h-0.9zM121.4,67.1h0.9v0.9h-0.9zM114.5,67.1h0.9v0.9h-0.9zM117.1,61.9h0.9v0.9h-0.9zM114.1,75.1h0.9v0.9h-0.9zM111.0,63.4h0.9v0.9h-0.9zM119.8,61.4h0.9v0.9h-0.9zM115.0,68.8h0.9v0.9h-0.9zM111.5,65.1h0.9v0.9h-0.9zM111.5,65.7h0.9v0.9h-0.9zM117.4,67.1h0.9v0.9h-0.9zM117.2,69.2h0.9v0.9h-0.9zM119.9,60.6h0.9v0.9h-0.9zM116.6,76.4h0.9v0.9h-0.9zM114.8,65.4h0.9v0.9h-0.9zM116.0,62.7h0.9v0.9h-0.9z" fill="#2436de" fill-opacity="0.6" filter="url(#bd)"/>
<path d="M106.8,65.9h0.9v0.9h-0.9zM103.2,71.9h0.9v0.9h-0.9zM110.0,54.7h0.9v0.9h-0.9zM101.5,63.8h0.9v0.9h-0.9zM97.0,71.4h0.9v0.9h-0.9zM114.5,72.4h0.9v0.9h-0.9zM110.3,50.4h0.9v0.9h-0.9zM101.8,55.5h0.9v0.9h-0.9zM107.9,65.0h0.9v0.9h-0.9zM103.1,69.9h0.9v0.9h-0.9zM107.8,79.0h0.9v0.9h-0.9zM110.8,73.4h0.9v0.9h-0.9zM104.5,53.8h0.9v0.9h-0.9zM104.8,64.0h0.9v0.9h-0.9zM103.5,73.6h0.9v0.9h-0.9zM97.3,71.1h0.9v0.9h-0.9zM110.0,57.0h0.9v0.9h-0.9zM111.0,60.7h0.9v0.9h-0.9zM100.3,73.5h0.9v0.9h-0.9zM103.9,51.3h0.9v0.9h-0.9zM100.8,71.5h0.9v0.9h-0.9zM101.3,62.2h0.9v0.9h-0.9zM104.0,65.9h0.9v0.9h-0.9zM100.6,58.6h0.9v0.9h-0.9zM106.2,75.8h0.9v0.9h-0.9zM109.0,58.9h0.9v0.9h-0.9zM111.2,54.0h0.9v0.9h-0.9zM108.8,78.9h0.9v0.9h-0.9zM104.3,58.0h0.9v0.9h-0.9zM106.0,77.2h0.9v0.9h-0.9zM101.4,71.3h0.9v0.9h-0.9zM110.1,59.3h0.9v0.9h-0.9zM99.4,73.1h0.9v0.9h-0.9zM97.4,70.5h0.9v0.9h-0.9zM99.9,65.3h0.9v0.9h-0.9zM114.3,63.9h0.9v0.9h-0.9zM104.2,59.5h0.9v0.9h-0.9zM106.8,78.2h0.9v0.9h-0.9zM107.2,55.5h0.9v0.9h-0.9zM105.8,78.4h0.9v0.9h-0.9zM99.2,64.9h0.9v0.9h-0.9zM99.4,61.4h0.9v0.9h-0.9zM99.0,55.3h0.9v0.9h-0.9zM106.4,65.6h0.9v0.9h-0.9zM100.4,57.2h0.9v0.9h-0.9zM104.8,64.4h0.9v0.9h-0.9zM105.9,55.2h0.9v0.9h-0.9zM100.3,62.5h0.9v0.9h-0.9zM102.1,63.2h0.9v0.9h-0.9zM100.2,65.0h0.9v0.9h-0.9zM112.2,60.0h0.9v0.9h-0.9zM99.4,72.5h0.9v0.9h-0.9zM104.7,52.5h0.9v0.9h-0.9zM112.0,73.4h0.9v0.9h-0.9zM110.4,66.8h0.9v0.9h-0.9zM102.3,66.2h0.9v0.9h-0.9zM100.9,61.1h0.9v0.9h-0.9zM105.8,59.1h0.9v0.9h-0.9zM108.0,61.1h0.9v0.9h-0.9zM115.8,76.0h0.9v0.9h-0.9zM107.4,68.6h0.9v0.9h-0.9zM104.3,62.1h0.9v0.9h-0.9zM100.1,62.0h0.9v0.9h-0.9zM104.5,51.1h0.9v0.9h-0.9zM97.8,60.6h0.9v0.9h-0.9zM101.8,73.4h0.9v0.9h-0.9zM117.3,64.9h0.9v0.9h-0.9zM107.3,66.1h0.9v0.9h-0.9zM104.9,70.6h0.9v0.9h-0.9zM104.3,61.2h0.9v0.9h-0.9zM109.5,64.8h0.9v0.9h-0.9zM111.4,57.2h0.9v0.9h-0.9zM101.0,68.9h0.9v0.9h-0.9zM111.5,69.6h0.9v0.9h-0.9zM100.1,63.5h0.9v0.9h-0.9zM105.6,61.4h0.9v0.9h-0.9zM102.0,67.2h0.9v0.9h-0.9zM101.1,66.0h0.9v0.9h-0.9zM104.6,77.5h0.9v0.9h-0.9zM113.4,72.0h0.9v0.9h-0.9zM97.3,55.7h0.9v0.9h-0.9zM102.8,68.4h0.9v0.9h-0.9zM107.3,75.9h0.9v0.9h-0.9zM106.4,66.6h0.9v0.9h-0.9zM106.1,49.9h0.9v0.9h-0.9zM109.9,54.0h0.9v0.9h-0.9zM101.9,56.3h0.9v0.9h-0.9zM103.0,66.8h0.9v0.9h-0.9zM107.2,69.2h0.9v0.9h-0.9zM101.5,67.0h0.9v0.9h-0.9zM110.4,64.1h0.9v0.9h-0.9zM103.4,49.1h0.9v0.9h-0.9zM107.8,64.4h0.9v0.9h-0.9zM110.3,76.2h0.9v0.9h-0.9zM110.9,56.9h0.9v0.9h-0.9zM98.3,71.9h0.9v0.9h-0.9zM106.8,69.8h0.9v0.9h-0.9zM96.8,72.5h0.9v0.9h-0.9zM113.7,75.7h0.9v0.9h-0.9zM117.0,69.9h0.9v0.9h-0.9zM96.4,68.3h0.9v0.9h-0.9zM112.0,76.5h0.9v0.9h-0.9zM102.5,64.4h0.9v0.9h-0.9zM108.1,63.5h0.9v0.9h-0.9zM107.5,68.6h0.9v0.9h-0.9zM108.0,67.1h0.9v0.9h-0.9zM97.3,54.5h0.9v0.9h-0.9zM107.5,54.6h0.9v0.9h-0.9zM101.2,70.0h0.9v0.9h-0.9zM107.5,74.4h0.9v0.9h-0.9zM106.3,78.6h0.9v0.9h-0.9zM101.2,75.5h0.9v0.9h-0.9zM97.3,62.8h0.9v0.9h-0.9zM106.2,71.1h0.9v0.9h-0.9zM102.7,60.9h0.9v0.9h-0.9zM102.6,61.2h0.9v0.9h-0.9zM97.4,64.8h0.9v0.9h-0.9zM96.8,68.7h0.9v0.9h-0.9zM111.5,58.3h0.9v0.9h-0.9zM105.1,61.9h0.9v0.9h-0.9zM102.0,55.2h0.9v0.9h-0.9zM104.3,65.8h0.9v0.9h-0.9zM98.6,75.0h0.9v0.9h-0.9zM99.8,61.6h0.9v0.9h-0.9zM98.0,69.9h0.9v0.9h-0.9zM110.1,65.1h0.9v0.9h-0.9zM105.1,59.4h0.9v0.9h-0.9zM102.4,55.4h0.9v0.9h-0.9zM103.6,49.6h0.9v0.9h-0.9zM115.5,76.0h0.9v0.9h-0.9zM101.0,62.0h0.9v0.9h-0.9zM101.8,66.8h0.9v0.9h-0.9zM101.6,50.4h0.9v0.9h-0.9zM105.3,69.3h0.9v0.9h-0.9zM99.8,72.4h0.9v0.9h-0.9zM103.0,59.5h0.9v0.9h-0.9zM103.5,55.4h0.9v0.9h-0.9zM110.0,70.8h0.9v0.9h-0.9zM104.6,68.2h0.9v0.9h-0.9zM98.0,67.3h0.9v0.9h-0.9zM100.3,61.0h0.9v0.9h-0.9zM111.9,60.0h0.9v0.9h-0.9zM104.3,66.6h0.9v0.9h-0.9zM109.0,64.0h0.9v0.9h-0.9zM106.5,69.1h0.9v0.9h-0.9zM103.0,61.3h0.9v0.9h-0.9zM98.8,74.6h0.9v0.9h-0.9zM99.6,75.3h0.9v0.9h-0.9zM112.4,61.5h0.9v0.9h-0.9zM99.1,57.9h0.9v0.9h-0.9zM101.4,76.6h0.9v0.9h-0.9zM100.1,57.4h0.9v0.9h-0.9zM106.2,78.1h0.9v0.9h-0.9zM105.3,65.7h0.9v0.9h-0.9zM112.0,73.3h0.9v0.9h-0.9zM102.3,64.5h0.9v0.9h-0.9zM103.6,65.3h0.9v0.9h-0.9zM106.5,60.5h0.9v0.9h-0.9zM113.5,58.1h0.9v0.9h-0.9zM107.3,72.1h0.9v0.9h-0.9zM108.8,77.0h0.9v0.9h-0.9zM105.6,67.8h0.9v0.9h-0.9zM111.4,76.5h0.9v0.9h-0.9zM104.1,73.1h0.9v0.9h-0.9zM98.0,69.4h0.9v0.9h-0.9zM100.9,73.7h0.9v0.9h-0.9zM106.4,61.4h0.9v0.9h-0.9zM106.1,59.1h0.9v0.9h-0.9zM102.8,69.2h0.9v0.9h-0.9zM107.8,59.8h0.9v0.9h-0.9zM102.3,70.2h0.9v0.9h-0.9zM108.3,73.4h0.9v0.9h-0.9zM99.7,59.2h0.9v0.9h-0.9zM99.0,65.9h0.9v0.9h-0.9zM109.1,59.8h0.9v0.9h-0.9zM104.9,70.7h0.9v0.9h-0.9zM97.4,55.3h0.9v0.9h-0.9zM101.8,64.3h0.9v0.9h-0.9zM106.9,65.4h0.9v0.9h-0.9zM106.2,53.0h0.9v0.9h-0.9zM112.7,73.2h0.9v0.9h-0.9zM103.4,66.7h0.9v0.9h-0.9zM106.8,48.1h0.9v0.9h-0.9zM109.3,68.6h0.9v0.9h-0.9zM107.7,61.8h0.9v0.9h-0.9zM110.1,53.6h0.9v0.9h-0.9zM103.1,60.9h0.9v0.9h-0.9zM101.5,56.3h0.9v0.9h-0.9zM97.6,67.1h0.9v0.9h-0.9zM102.9,71.0h0.9v0.9h-0.9zM108.1,62.0h0.9v0.9h-0.9zM96.5,65.2h0.9v0.9h-0.9zM102.5,69.8h0.9v0.9h-0.9zM106.3,73.8h0.9v0.9h-0.9zM106.0,69.3h0.9v0.9h-0.9zM99.3,64.9h0.9v0.9h-0.9zM100.6,64.7h0.9v0.9h-0.9zM102.4,72.5h0.9v0.9h-0.9zM105.6,64.0h0.9v0.9h-0.9zM100.5,63.3h0.9v0.9h-0.9zM106.4,65.9h0.9v0.9h-0.9zM104.6,67.1h0.9v0.9h-0.9zM103.2,72.4h0.9v0.9h-0.9zM104.6,62.9h0.9v0.9h-0.9zM111.3,67.3h0.9v0.9h-0.9zM109.2,71.2h0.9v0.9h-0.9zM108.2,74.6h0.9v0.9h-0.9zM107.3,58.9h0.9v0.9h-0.9zM103.0,77.1h0.9v0.9h-0.9zM103.5,63.4h0.9v0.9h-0.9zM104.3,73.8h0.9v0.9h-0.9zM100.0,65.8h0.9v0.9h-0.9zM101.9,60.8h0.9v0.9h-0.9zM107.8,61.8h0.9v0.9h-0.9zM104.4,69.2h0.9v0.9h-0.9zM106.4,70.0h0.9v0.9h-0.9zM107.8,60.4h0.9v0.9h-0.9zM112.3,63.2h0.9v0.9h-0.9zM104.3,73.1h0.9v0.9h-0.9zM100.1,65.8h0.9v0.9h-0.9zM102.0,70.5h0.9v0.9h-0.9zM99.7,60.7h0.9v0.9h-0.9zM97.2,68.0h0.9v0.9h-0.9zM103.6,64.4h0.9v0.9h-0.9zM107.1,58.6h0.9v0.9h-0.9zM104.2,58.6h0.9v0.9h-0.9zM109.3,67.3h0.9v0.9h-0.9zM99.5,68.9h0.9v0.9h-0.9zM109.4,72.0h0.9v0.9h-0.9zM99.9,64.8h0.9v0.9h-0.9zM106.5,58.3h0.9v0.9h-0.9zM107.5,69.3h0.9v0.9h-0.9zM109.0,68.8h0.9v0.9h-0.9zM114.0,55.7h0.9v0.9h-0.9zM102.3,62.2h0.9v0.9h-0.9zM104.2,71.4h0.9v0.9h-0.9zM99.0,74.2h0.9v0.9h-0.9zM109.7,67.3h0.9v0.9h-0.9zM97.4,71.3h0.9v0.9h-0.9zM106.3,58.9h0.9v0.9h-0.9zM100.8,62.2h0.9v0.9h-0.9zM97.2,69.2h0.9v0.9h-0.9zM109.7,69.1h0.9v0.9h-0.9zM100.8,65.9h0.9v0.9h-0.9zM102.1,70.2h0.9v0.9h-0.9zM102.7,75.5h0.9v0.9h-0.9zM100.3,70.4h0.9v0.9h-0.9zM102.5,71.0h0.9v0.9h-0.9zM97.2,65.7h0.9v0.9h-0.9zM109.7,71.7h0.9v0.9h-0.9zM106.5,64.4h0.9v0.9h-0.9zM102.5,59.1h0.9v0.9h-0.9zM111.8,76.5h0.9v0.9h-0.9zM111.4,58.3h0.9v0.9h-0.9zM96.9,61.9h0.9v0.9h-0.9zM98.3,53.0h0.9v0.9h-0.9zM106.6,60.6h0.9v0.9h-0.9zM105.6,75.7h0.9v0.9h-0.9zM100.1,62.0h0.9v0.9h-0.9zM110.2,54.1h0.9v0.9h-0.9zM101.6,56.9h0.9v0.9h-0.9zM102.9,61.0h0.9v0.9h-0.9zM104.9,62.1h0.9v0.9h-0.9zM109.8,59.6h0.9v0.9h-0.9zM103.4,71.1h0.9v0.9h-0.9zM99.5,60.8h0.9v0.9h-0.9zM103.3,62.6h0.9v0.9h-0.9zM107.7,60.0h0.9v0.9h-0.9zM96.4,70.8h0.9v0.9h-0.9zM99.7,60.6h0.9v0.9h-0.9zM102.5,74.6h0.9v0.9h-0.9zM107.8,67.2h0.9v0.9h-0.9zM105.2,62.4h0.9v0.9h-0.9zM112.3,74.0h0.9v0.9h-0.9zM99.7,73.0h0.9v0.9h-0.9zM97.2,59.4h0.9v0.9h-0.9zM100.4,78.5h0.9v0.9h-0.9zM113.7,66.1h0.9v0.9h-0.9zM101.4,76.4h0.9v0.9h-0.9zM101.2,78.6h0.9v0.9h-0.9zM99.2,73.6h0.9v0.9h-0.9zM104.6,60.7h0.9v0.9h-0.9zM104.3,71.2h0.9v0.9h-0.9zM115.7,57.4h0.9v0.9h-0.9zM109.9,76.1h0.9v0.9h-0.9zM107.5,63.3h0.9v0.9h-0.9zM104.8,59.4h0.9v0.9h-0.9zM105.4,56.7h0.9v0.9h-0.9zM101.5,66.7h0.9v0.9h-0.9zM99.5,55.8h0.9v0.9h-0.9zM103.6,68.3h0.9v0.9h-0.9zM107.3,69.3h0.9v0.9h-0.9zM112.3,65.7h0.9v0.9h-0.9zM110.6,57.9h0.9v0.9h-0.9zM107.3,71.9h0.9v0.9h-0.9zM113.3,61.2h0.9v0.9h-0.9zM113.2,65.2h0.9v0.9h-0.9zM101.9,52.8h0.9v0.9h-0.9zM108.6,61.7h0.9v0.9h-0.9zM108.2,67.4h0.9v0.9h-0.9z" fill="#2436de" fill-opacity="0.6" filter="url(#bd)"/>
<path d="M104.8,44.4h0.9v0.9h-0.9zM99.6,41.4h0.9v0.9h-0.9zM102.0,46.7h0.9v0.9h-0.9zM99.3,49.6h0.9v0.9h-0.9zM104.4,46.0h0.9v0.9h-0.9zM109.2,50.4h0.9v0.9h-0.9zM98.5,37.5h0.9v0.9h-0.9zM102.1,43.6h0.9v0.9h-0.9zM104.6,40.9h0.9v0.9h-0.9zM99.5,39.6h0.9v0.9h-0.9zM101.9,38.9h0.9v0.9h-0.9zM101.5,48.5h0.9v0.9h-0.9zM101.4,37.5h0.9v0.9h-0.9zM103.8,48.7h0.9v0.9h-0.9zM98.9,41.6h0.9v0.9h-0.9zM96.4,37.7h0.9v0.9h-0.9zM98.0,35.7h0.9v0.9h-0.9zM99.7,55.4h0.9v0.9h-0.9zM106.0,41.3h0.9v0.9h-0.9zM103.5,44.4h0.9v0.9h-0.9zM101.3,36.9h0.9v0.9h-0.9zM100.3,43.3h0.9v0.9h-0.9zM103.3,51.9h0.9v0.9h-0.9zM105.0,37.0h0.9v0.9h-0.9zM100.5,47.6h0.9v0.9h-0.9zM104.5,39.8h0.9v0.9h-0.9zM101.8,33.0h0.9v0.9h-0.9zM97.8,51.1h0.9v0.9h-0.9zM100.2,46.6h0.9v0.9h-0.9zM107.6,44.0h0.9v0.9h-0.9zM102.0,42.2h0.9v0.9h-0.9zM104.8,46.0h0.9v0.9h-0.9zM103.5,53.4h0.9v0.9h-0.9zM103.7,51.4h0.9v0.9h-0.9zM98.9,42.3h0.9v0.9h-0.9zM104.3,38.9h0.9v0.9h-0.9zM96.8,43.3h0.9v0.9h-0.9zM100.1,46.2h0.9v0.9h-0.9zM107.6,41.1h0.9v0.9h-0.9zM98.1,42.0h0.9v0.9h-0.9zM99.8,40.6h0.9v0.9h-0.9zM105.9,47.3h0.9v0.9h-0.9zM103.3,42.4h0.9v0.9h-0.9zM105.4,43.3h0.9v0.9h-0.9zM108.0,43.9h0.9v0.9h-0.9zM101.7,48.1h0.9v0.9h-0.9zM109.5,33.2h0.9v0.9h-0.9zM103.6,36.5h0.9v0.9h-0.9zM96.1,41.2h0.9v0.9h-0.9zM104.9,33.8h0.9v0.9h-0.9zM100.4,54.9h0.9v0.9h-0.9zM106.4,41.7h0.9v0.9h-0.9zM104.3,44.2h0.9v0.9h-0.9zM99.9,38.9h0.9v0.9h-0.9zM106.4,39.8h0.9v0.9h-0.9zM101.4,40.7h0.9v0.9h-0.9zM96.6,42.5h0.9v0.9h-0.9zM108.5,37.5h0.9v0.9h-0.9zM101.6,51.1h0.9v0.9h-0.9zM103.5,43.7h0.9v0.9h-0.9zM104.0,45.6h0.9v0.9h-0.9zM101.6,38.7h0.9v0.9h-0.9zM100.3,33.2h0.9v0.9h-0.9zM102.4,42.4h0.9v0.9h-0.9zM99.6,34.1h0.9v0.9h-0.9zM104.0,36.5h0.9v0.9h-0.9zM104.9,38.4h0.9v0.9h-0.9zM104.2,47.1h0.9v0.9h-0.9zM104.9,41.8h0.9v0.9h-0.9zM99.6,34.3h0.9v0.9h-0.9zM97.9,45.3h0.9v0.9h-0.9zM104.1,45.9h0.9v0.9h-0.9zM104.4,50.2h0.9v0.9h-0.9zM100.7,43.6h0.9v0.9h-0.9zM100.9,41.9h0.9v0.9h-0.9zM101.4,44.9h0.9v0.9h-0.9zM100.1,44.5h0.9v0.9h-0.9zM105.1,41.9h0.9v0.9h-0.9zM103.8,38.3h0.9v0.9h-0.9zM98.9,54.2h0.9v0.9h-0.9zM101.3,51.1h0.9v0.9h-0.9zM101.7,42.1h0.9v0.9h-0.9zM104.1,39.4h0.9v0.9h-0.9zM103.9,47.4h0.9v0.9h-0.9zM102.1,40.2h0.9v0.9h-0.9zM104.1,41.0h0.9v0.9h-0.9zM100.0,35.4h0.9v0.9h-0.9zM102.2,51.2h0.9v0.9h-0.9zM100.1,40.6h0.9v0.9h-0.9zM97.2,42.3h0.9v0.9h-0.9zM104.8,42.7h0.9v0.9h-0.9zM103.9,50.3h0.9v0.9h-0.9zM98.7,40.0h0.9v0.9h-0.9zM104.0,41.9h0.9v0.9h-0.9zM98.1,43.6h0.9v0.9h-0.9zM103.2,50.3h0.9v0.9h-0.9zM98.8,45.7h0.9v0.9h-0.9zM104.4,43.2h0.9v0.9h-0.9zM96.1,54.6h0.9v0.9h-0.9zM103.3,45.3h0.9v0.9h-0.9zM110.2,50.0h0.9v0.9h-0.9zM98.3,43.8h0.9v0.9h-0.9zM107.9,51.2h0.9v0.9h-0.9zM107.3,43.6h0.9v0.9h-0.9zM105.9,39.9h0.9v0.9h-0.9zM101.2,47.5h0.9v0.9h-0.9zM101.3,47.2h0.9v0.9h-0.9zM101.3,45.4h0.9v0.9h-0.9zM109.2,47.2h0.9v0.9h-0.9zM105.7,35.0h0.9v0.9h-0.9zM99.7,49.3h0.9v0.9h-0.9zM96.1,41.2h0.9v0.9h-0.9zM100.6,50.8h0.9v0.9h-0.9zM101.8,44.4h0.9v0.9h-0.9zM96.0,51.1h0.9v0.9h-0.9zM104.2,51.5h0.9v0.9h-0.9zM103.9,47.5h0.9v0.9h-0.9zM100.8,42.0h0.9v0.9h-0.9zM97.5,46.3h0.9v0.9h-0.9zM97.5,50.5h0.9v0.9h-0.9z" fill="#3a4ee6" fill-opacity="0.55" filter="url(#bd)"/>
<path d="M117.4,42.3h0.9v0.9h-0.9zM116.3,38.3h0.9v0.9h-0.9zM112.7,42.0h0.9v0.9h-0.9zM111.5,42.3h0.9v0.9h-0.9zM115.1,42.0h0.9v0.9h-0.9zM113.2,39.9h0.9v0.9h-0.9zM114.5,49.7h0.9v0.9h-0.9zM112.3,42.7h0.9v0.9h-0.9zM117.8,50.4h0.9v0.9h-0.9zM118.8,48.3h0.9v0.9h-0.9zM111.6,46.9h0.9v0.9h-0.9zM112.5,45.8h0.9v0.9h-0.9zM121.7,47.0h0.9v0.9h-0.9zM116.3,48.2h0.9v0.9h-0.9zM115.3,47.7h0.9v0.9h-0.9zM115.4,48.2h0.9v0.9h-0.9zM113.2,44.2h0.9v0.9h-0.9zM118.6,43.4h0.9v0.9h-0.9zM114.0,39.1h0.9v0.9h-0.9zM115.5,41.0h0.9v0.9h-0.9zM117.8,51.3h0.9v0.9h-0.9zM114.4,41.9h0.9v0.9h-0.9zM115.4,43.7h0.9v0.9h-0.9zM117.5,44.6h0.9v0.9h-0.9zM114.1,38.5h0.9v0.9h-0.9z" fill="#6a78ea" fill-opacity="0.5" filter="url(#bd)"/>
<path d="M87,40 L89,34 L97,33.2 L104,34 L105.5,40 L103,47 L99,52 L97.5,56 L98.5,79 L87.8,79 L88,60 L88.8,55 L86.8,47 Z" fill="#2436de" fill-opacity="1" filter="url(#b1)"/>
<path d="M88.4,40.1 A4.5,5.3999999999999995 0 0 1 97.4,40.1 C97.4,47.705 94.25,53.62 92.9,57 C91.55000000000001,53.62 88.4,47.705 88.4,40.1 Z" fill="#4cc8f0" fill-opacity="1" filter="url(#b1)"/>
<path d="M89.30000000000001,40.6 A3.6,4.32 0 0 1 96.5,40.6 C96.5,45.730000000000004 93.98,49.72 92.9,52 C91.82000000000001,49.72 89.30000000000001,45.730000000000004 89.30000000000001,40.6 Z" fill="#78e468" fill-opacity="1" filter="url(#b1)"/>
<ellipse cx="93" cy="43" rx="2.7" ry="4.3" fill="#f0f03c" fill-opacity="1" filter="url(#b1)"/>
<ellipse cx="93.1" cy="42.6" rx="1.8" ry="2.8" fill="#f8b030" fill-opacity="0.8" filter="url(#b1)"/>
<ellipse cx="93.1" cy="42.3" rx="1.35" ry="1.95" fill="#d8260f" fill-opacity="1" filter="url(#b05)"/>
<ellipse cx="92.8" cy="67.5" rx="3.6" ry="12.5" fill="#4cc8f0" fill-opacity="1" filter="url(#b1)"/>
<ellipse cx="92.8" cy="68.5" rx="2.4" ry="9.5" fill="#78e468" fill-opacity="1" filter="url(#b1)"/>
<ellipse cx="92.8" cy="68" rx="1.4" ry="5.5" fill="#b8f048" fill-opacity="0.8" filter="url(#b1)"/>
</g>
<g clip-path="url(#c3)">
<path d="M160,55 L172,66 L182,72 L182,79 L159,79 Z" fill="#c0c8f6" fill-opacity="0.85" filter="url(#b2)"/>
<ellipse cx="170" cy="40" rx="6" ry="6" fill="#b8c2f6" fill-opacity="0.7" filter="url(#b2)"/>
<path d="M173.2,78.4h0.9v0.9h-0.9zM169.6,75.9h0.9v0.9h-0.9zM172.8,72.9h0.9v0.9h-0.9zM172.7,65.5h0.9v0.9h-0.9zM172.6,56.8h0.9v0.9h-0.9zM174.9,66.7h0.9v0.9h-0.9zM166.1,75.2h0.9v0.9h-0.9zM162.6,74.2h0.9v0.9h-0.9zM164.9,68.5h0.9v0.9h-0.9zM171.3,78.2h0.9v0.9h-0.9zM165.8,63.4h0.9v0.9h-0.9zM159.9,62.1h0.9v0.9h-0.9zM168.3,65.5h0.9v0.9h-0.9zM167.8,63.1h0.9v0.9h-0.9zM166.0,75.1h0.9v0.9h-0.9zM161.1,78.6h0.9v0.9h-0.9zM168.0,66.9h0.9v0.9h-0.9zM165.7,71.4h0.9v0.9h-0.9zM162.7,68.2h0.9v0.9h-0.9zM169.3,60.2h0.9v0.9h-0.9zM182.7,77.0h0.9v0.9h-0.9zM172.2,71.6h0.9v0.9h-0.9zM167.1,75.2h0.9v0.9h-0.9zM176.5,66.6h0.9v0.9h-0.9zM178.6,69.7h0.9v0.9h-0.9zM164.7,76.2h0.9v0.9h-0.9zM159.7,76.2h0.9v0.9h-0.9zM158.3,67.6h0.9v0.9h-0.9zM161.8,73.2h0.9v0.9h-0.9zM161.7,69.7h0.9v0.9h-0.9zM167.7,69.2h0.9v0.9h-0.9zM168.7,73.5h0.9v0.9h-0.9zM158.0,78.1h0.9v0.9h-0.9zM161.1,67.0h0.9v0.9h-0.9zM178.2,67.6h0.9v0.9h-0.9zM166.9,76.1h0.9v0.9h-0.9zM163.8,71.0h0.9v0.9h-0.9zM166.0,70.6h0.9v0.9h-0.9zM160.6,78.1h0.9v0.9h-0.9zM167.9,75.4h0.9v0.9h-0.9zM168.0,68.1h0.9v0.9h-0.9zM174.7,67.2h0.9v0.9h-0.9zM173.7,67.2h0.9v0.9h-0.9zM163.4,72.3h0.9v0.9h-0.9zM181.9,77.3h0.9v0.9h-0.9zM168.5,74.4h0.9v0.9h-0.9zM174.8,68.9h0.9v0.9h-0.9zM167.5,67.4h0.9v0.9h-0.9zM166.2,68.1h0.9v0.9h-0.9zM178.1,76.0h0.9v0.9h-0.9zM166.1,69.1h0.9v0.9h-0.9zM160.9,68.1h0.9v0.9h-0.9zM173.4,75.4h0.9v0.9h-0.9zM169.7,65.6h0.9v0.9h-0.9zM167.4,67.7h0.9v0.9h-0.9zM176.9,71.9h0.9v0.9h-0.9zM167.2,71.7h0.9v0.9h-0.9zM167.8,72.3h0.9v0.9h-0.9zM164.5,73.4h0.9v0.9h-0.9zM168.2,77.1h0.9v0.9h-0.9zM171.0,75.9h0.9v0.9h-0.9zM164.8,71.9h0.9v0.9h-0.9zM165.3,57.3h0.9v0.9h-0.9zM174.8,77.6h0.9v0.9h-0.9zM158.4,72.3h0.9v0.9h-0.9zM168.5,68.8h0.9v0.9h-0.9zM176.8,78.5h0.9v0.9h-0.9zM170.7,66.2h0.9v0.9h-0.9zM169.3,72.2h0.9v0.9h-0.9zM170.9,63.2h0.9v0.9h-0.9zM161.7,78.4h0.9v0.9h-0.9zM168.3,71.3h0.9v0.9h-0.9zM167.5,55.4h0.9v0.9h-0.9zM176.5,62.9h0.9v0.9h-0.9zM160.4,75.0h0.9v0.9h-0.9zM176.0,79.0h0.9v0.9h-0.9zM164.7,66.8h0.9v0.9h-0.9zM171.6,73.2h0.9v0.9h-0.9zM169.8,76.2h0.9v0.9h-0.9zM168.4,76.9h0.9v0.9h-0.9zM169.6,66.5h0.9v0.9h-0.9zM164.2,61.3h0.9v0.9h-0.9zM162.6,74.7h0.9v0.9h-0.9zM175.3,69.3h0.9v0.9h-0.9zM165.7,72.1h0.9v0.9h-0.9zM173.2,65.6h0.9v0.9h-0.9zM164.9,73.9h0.9v0.9h-0.9zM158.7,73.7h0.9v0.9h-0.9zM167.4,76.7h0.9v0.9h-0.9zM161.0,71.5h0.9v0.9h-0.9zM170.2,72.1h0.9v0.9h-0.9zM161.4,78.7h0.9v0.9h-0.9zM167.2,72.7h0.9v0.9h-0.9zM168.2,76.0h0.9v0.9h-0.9zM168.4,67.7h0.9v0.9h-0.9zM172.9,71.4h0.9v0.9h-0.9zM168.5,73.1h0.9v0.9h-0.9zM160.8,72.4h0.9v0.9h-0.9zM169.7,63.3h0.9v0.9h-0.9zM166.1,71.5h0.9v0.9h-0.9zM172.1,70.0h0.9v0.9h-0.9zM168.4,75.7h0.9v0.9h-0.9zM160.5,67.4h0.9v0.9h-0.9zM166.1,76.2h0.9v0.9h-0.9zM176.0,72.6h0.9v0.9h-0.9zM167.3,69.1h0.9v0.9h-0.9zM167.2,68.8h0.9v0.9h-0.9zM177.5,71.3h0.9v0.9h-0.9zM166.9,66.8h0.9v0.9h-0.9zM174.3,70.6h0.9v0.9h-0.9zM169.9,68.8h0.9v0.9h-0.9zM170.8,75.0h0.9v0.9h-0.9zM161.4,70.2h0.9v0.9h-0.9zM163.2,77.2h0.9v0.9h-0.9zM159.1,75.7h0.9v0.9h-0.9zM174.8,62.1h0.9v0.9h-0.9zM168.0,68.3h0.9v0.9h-0.9zM163.2,78.1h0.9v0.9h-0.9zM165.1,76.9h0.9v0.9h-0.9zM169.1,69.6h0.9v0.9h-0.9zM174.3,72.3h0.9v0.9h-0.9zM165.2,73.0h0.9v0.9h-0.9zM160.0,78.4h0.9v0.9h-0.9zM178.1,62.9h0.9v0.9h-0.9zM168.7,69.7h0.9v0.9h-0.9zM163.7,76.9h0.9v0.9h-0.9zM178.3,73.8h0.9v0.9h-0.9zM165.9,67.8h0.9v0.9h-0.9zM164.4,77.5h0.9v0.9h-0.9zM168.3,72.9h0.9v0.9h-0.9zM164.2,74.0h0.9v0.9h-0.9zM167.7,65.8h0.9v0.9h-0.9zM178.1,73.6h0.9v0.9h-0.9zM167.8,74.8h0.9v0.9h-0.9zM168.2,59.0h0.9v0.9h-0.9zM173.5,67.3h0.9v0.9h-0.9zM166.0,74.8h0.9v0.9h-0.9zM180.5,74.2h0.9v0.9h-0.9zM169.4,68.5h0.9v0.9h-0.9zM165.6,68.9h0.9v0.9h-0.9zM167.9,66.2h0.9v0.9h-0.9zM165.5,65.0h0.9v0.9h-0.9zM174.8,75.9h0.9v0.9h-0.9zM167.0,70.5h0.9v0.9h-0.9zM172.6,73.1h0.9v0.9h-0.9zM165.1,55.8h0.9v0.9h-0.9zM166.8,67.4h0.9v0.9h-0.9zM160.9,72.8h0.9v0.9h-0.9zM167.4,68.7h0.9v0.9h-0.9zM161.0,73.8h0.9v0.9h-0.9zM159.6,68.2h0.9v0.9h-0.9zM167.1,78.7h0.9v0.9h-0.9zM165.3,72.7h0.9v0.9h-0.9zM171.5,57.2h0.9v0.9h-0.9zM162.3,69.7h0.9v0.9h-0.9zM163.5,76.8h0.9v0.9h-0.9zM164.7,75.5h0.9v0.9h-0.9zM173.4,70.2h0.9v0.9h-0.9zM173.6,72.2h0.9v0.9h-0.9zM167.4,73.9h0.9v0.9h-0.9zM168.9,71.8h0.9v0.9h-0.9zM161.7,75.5h0.9v0.9h-0.9zM173.6,71.6h0.9v0.9h-0.9zM168.3,76.9h0.9v0.9h-0.9zM165.6,74.4h0.9v0.9h-0.9zM173.8,67.8h0.9v0.9h-0.9zM167.5,67.2h0.9v0.9h-0.9zM161.4,60.5h0.9v0.9h-0.9zM174.3,69.6h0.9v0.9h-0.9zM173.5,69.5h0.9v0.9h-0.9zM166.4,70.8h0.9v0.9h-0.9zM172.4,78.0h0.9v0.9h-0.9zM166.9,73.7h0.9v0.9h-0.9zM170.1,67.1h0.9v0.9h-0.9zM172.7,68.7h0.9v0.9h-0.9zM170.6,77.8h0.9v0.9h-0.9zM174.0,60.5h0.9v0.9h-0.9zM163.8,70.2h0.9v0.9h-0.9zM163.4,71.2h0.9v0.9h-0.9zM167.5,72.6h0.9v0.9h-0.9zM181.8,73.6h0.9v0.9h-0.9zM168.5,67.5h0.9v0.9h-0.9zM166.7,70.8h0.9v0.9h-0.9zM171.9,64.7h0.9v0.9h-0.9zM166.8,65.8h0.9v0.9h-0.9zM167.0,74.2h0.9v0.9h-0.9zM167.6,74.1h0.9v0.9h-0.9zM165.1,70.7h0.9v0.9h-0.9zM158.7,76.6h0.9v0.9h-0.9zM168.6,78.2h0.9v0.9h-0.9zM179.0,67.0h0.9v0.9h-0.9zM169.1,70.8h0.9v0.9h-0.9zM175.6,70.7h0.9v0.9h-0.9zM170.4,72.5h0.9v0.9h-0.9zM159.9,73.4h0.9v0.9h-0.9zM158.5,66.3h0.9v0.9h-0.9zM175.5,78.1h0.9v0.9h-0.9zM161.5,65.5h0.9v0.9h-0.9zM167.0,76.0h0.9v0.9h-0.9zM158.8,77.0h0.9v0.9h-0.9z" fill="#2a3ee0" fill-opacity="0.45" filter="url(#bd)"/>
<path d="M165.0,78.0h0.9v0.9h-0.9zM164.4,75.1h0.9v0.9h-0.9zM172.5,77.4h0.9v0.9h-0.9zM165.9,73.1h0.9v0.9h-0.9zM170.1,78.8h0.9v0.9h-0.9zM172.8,73.3h0.9v0.9h-0.9zM168.7,76.5h0.9v0.9h-0.9zM177.4,75.7h0.9v0.9h-0.9zM160.6,74.6h0.9v0.9h-0.9zM162.4,78.3h0.9v0.9h-0.9zM163.6,77.3h0.9v0.9h-0.9zM163.6,78.9h0.9v0.9h-0.9zM171.2,74.7h0.9v0.9h-0.9zM172.1,76.7h0.9v0.9h-0.9zM168.2,74.1h0.9v0.9h-0.9zM179.5,76.3h0.9v0.9h-0.9zM165.9,76.3h0.9v0.9h-0.9zM167.9,73.6h0.9v0.9h-0.9zM174.6,72.9h0.9v0.9h-0.9zM173.5,72.3h0.9v0.9h-0.9zM159.9,78.4h0.9v0.9h-0.9zM159.3,76.1h0.9v0.9h-0.9zM169.7,78.7h0.9v0.9h-0.9zM178.7,77.8h0.9v0.9h-0.9zM171.4,78.3h0.9v0.9h-0.9zM174.2,72.9h0.9v0.9h-0.9zM171.9,74.3h0.9v0.9h-0.9zM183.8,78.5h0.9v0.9h-0.9zM162.5,77.2h0.9v0.9h-0.9zM160.7,75.3h0.9v0.9h-0.9zM169.5,73.4h0.9v0.9h-0.9zM171.7,78.1h0.9v0.9h-0.9zM177.8,78.2h0.9v0.9h-0.9zM170.6,77.7h0.9v0.9h-0.9zM163.4,75.0h0.9v0.9h-0.9zM176.4,73.8h0.9v0.9h-0.9zM164.8,77.8h0.9v0.9h-0.9zM167.5,73.6h0.9v0.9h-0.9zM164.4,74.6h0.9v0.9h-0.9zM160.7,74.9h0.9v0.9h-0.9zM172.5,74.9h0.9v0.9h-0.9zM169.3,74.7h0.9v0.9h-0.9zM166.9,77.4h0.9v0.9h-0.9zM170.4,75.6h0.9v0.9h-0.9zM166.4,78.2h0.9v0.9h-0.9zM165.8,73.1h0.9v0.9h-0.9zM172.3,77.4h0.9v0.9h-0.9zM167.4,74.9h0.9v0.9h-0.9zM176.1,78.6h0.9v0.9h-0.9zM170.4,76.0h0.9v0.9h-0.9zM164.3,77.7h0.9v0.9h-0.9zM171.8,76.3h0.9v0.9h-0.9zM161.0,77.7h0.9v0.9h-0.9zM172.3,77.6h0.9v0.9h-0.9zM166.0,75.7h0.9v0.9h-0.9zM167.0,76.6h0.9v0.9h-0.9zM168.8,75.8h0.9v0.9h-0.9zM172.5,78.3h0.9v0.9h-0.9zM169.0,78.6h0.9v0.9h-0.9zM162.9,75.2h0.9v0.9h-0.9zM170.9,78.1h0.9v0.9h-0.9zM169.4,72.9h0.9v0.9h-0.9zM166.0,73.7h0.9v0.9h-0.9zM173.6,75.2h0.9v0.9h-0.9zM169.7,73.8h0.9v0.9h-0.9zM170.9,72.7h0.9v0.9h-0.9zM166.4,77.9h0.9v0.9h-0.9zM168.3,74.1h0.9v0.9h-0.9zM163.6,78.0h0.9v0.9h-0.9zM172.1,76.7h0.9v0.9h-0.9zM172.5,75.9h0.9v0.9h-0.9zM168.2,75.8h0.9v0.9h-0.9zM165.5,78.3h0.9v0.9h-0.9zM172.9,75.6h0.9v0.9h-0.9zM170.0,73.7h0.9v0.9h-0.9zM168.8,76.1h0.9v0.9h-0.9zM164.6,73.2h0.9v0.9h-0.9zM162.7,76.4h0.9v0.9h-0.9zM167.1,77.9h0.9v0.9h-0.9zM160.8,77.4h0.9v0.9h-0.9zM163.3,76.9h0.9v0.9h-0.9zM169.4,78.9h0.9v0.9h-0.9zM171.5,75.5h0.9v0.9h-0.9zM169.2,73.1h0.9v0.9h-0.9zM168.4,77.1h0.9v0.9h-0.9zM169.8,75.0h0.9v0.9h-0.9zM169.9,76.6h0.9v0.9h-0.9zM170.3,74.2h0.9v0.9h-0.9zM172.9,76.0h0.9v0.9h-0.9zM161.2,75.7h0.9v0.9h-0.9z" fill="#2a3ee0" fill-opacity="0.55" filter="url(#bd)"/>
<path d="M166.5,71.3h0.9v0.9h-0.9zM162.2,57.5h0.9v0.9h-0.9zM162.0,66.2h0.9v0.9h-0.9zM167.1,63.1h0.9v0.9h-0.9zM162.3,70.7h0.9v0.9h-0.9zM164.4,57.5h0.9v0.9h-0.9zM162.4,67.6h0.9v0.9h-0.9zM162.1,62.3h0.9v0.9h-0.9zM161.0,65.3h0.9v0.9h-0.9zM167.4,69.3h0.9v0.9h-0.9zM161.8,55.4h0.9v0.9h-0.9zM167.3,66.3h0.9v0.9h-0.9zM158.5,70.5h0.9v0.9h-0.9zM161.7,58.5h0.9v0.9h-0.9zM163.1,54.0h0.9v0.9h-0.9zM159.7,70.5h0.9v0.9h-0.9zM162.2,64.9h0.9v0.9h-0.9zM167.0,64.2h0.9v0.9h-0.9zM162.7,65.5h0.9v0.9h-0.9zM167.9,65.1h0.9v0.9h-0.9zM161.9,73.7h0.9v0.9h-0.9zM167.3,55.1h0.9v0.9h-0.9zM164.2,76.2h0.9v0.9h-0.9zM158.8,53.9h0.9v0.9h-0.9zM165.2,59.1h0.9v0.9h-0.9zM158.5,71.0h0.9v0.9h-0.9zM162.7,64.7h0.9v0.9h-0.9zM166.7,63.8h0.9v0.9h-0.9zM160.5,75.6h0.9v0.9h-0.9zM166.0,62.4h0.9v0.9h-0.9zM162.0,54.0h0.9v0.9h-0.9zM165.2,54.5h0.9v0.9h-0.9zM168.5,50.7h0.9v0.9h-0.9zM165.6,55.8h0.9v0.9h-0.9zM160.0,66.4h0.9v0.9h-0.9zM163.4,66.5h0.9v0.9h-0.9zM159.8,61.2h0.9v0.9h-0.9zM162.0,63.6h0.9v0.9h-0.9zM165.7,61.4h0.9v0.9h-0.9zM160.2,62.7h0.9v0.9h-0.9zM158.1,58.4h0.9v0.9h-0.9zM166.8,58.9h0.9v0.9h-0.9zM165.6,59.8h0.9v0.9h-0.9zM160.3,62.9h0.9v0.9h-0.9zM164.5,61.3h0.9v0.9h-0.9zM163.8,72.1h0.9v0.9h-0.9zM163.1,64.2h0.9v0.9h-0.9zM160.7,66.9h0.9v0.9h-0.9zM160.9,63.2h0.9v0.9h-0.9zM161.6,66.0h0.9v0.9h-0.9zM164.6,68.4h0.9v0.9h-0.9zM163.3,65.9h0.9v0.9h-0.9zM168.7,56.6h0.9v0.9h-0.9zM160.3,67.1h0.9v0.9h-0.9zM163.5,62.7h0.9v0.9h-0.9zM165.9,65.1h0.9v0.9h-0.9zM163.1,61.2h0.9v0.9h-0.9zM161.0,59.6h0.9v0.9h-0.9zM163.1,50.8h0.9v0.9h-0.9zM166.9,55.0h0.9v0.9h-0.9z" fill="#2a3ee0" fill-opacity="0.45" filter="url(#bd)"/>
<path d="M188.7,71.8h0.9v0.9h-0.9zM182.6,66.5h0.9v0.9h-0.9zM186.0,73.4h0.9v0.9h-0.9zM182.3,70.4h0.9v0.9h-0.9zM187.1,66.9h0.9v0.9h-0.9zM186.0,65.8h0.9v0.9h-0.9zM183.8,63.0h0.9v0.9h-0.9zM182.3,71.5h0.9v0.9h-0.9zM186.4,70.6h0.9v0.9h-0.9zM183.3,69.7h0.9v0.9h-0.9zM187.6,61.7h0.9v0.9h-0.9zM181.8,62.4h0.9v0.9h-0.9zM185.2,68.6h0.9v0.9h-0.9zM190.5,73.0h0.9v0.9h-0.9zM183.7,72.4h0.9v0.9h-0.9zM181.5,60.2h0.9v0.9h-0.9zM181.9,70.5h0.9v0.9h-0.9zM183.6,70.9h0.9v0.9h-0.9zM190.4,62.0h0.9v0.9h-0.9zM183.5,69.1h0.9v0.9h-0.9zM187.3,63.9h0.9v0.9h-0.9zM184.9,62.8h0.9v0.9h-0.9zM189.3,72.0h0.9v0.9h-0.9zM190.6,75.3h0.9v0.9h-0.9zM186.3,72.0h0.9v0.9h-0.9zM187.1,68.1h0.9v0.9h-0.9zM184.2,66.2h0.9v0.9h-0.9zM185.8,69.2h0.9v0.9h-0.9zM188.6,68.5h0.9v0.9h-0.9zM185.8,76.3h0.9v0.9h-0.9zM183.5,62.7h0.9v0.9h-0.9zM183.2,76.1h0.9v0.9h-0.9zM184.3,65.0h0.9v0.9h-0.9zM185.2,66.7h0.9v0.9h-0.9zM182.0,58.4h0.9v0.9h-0.9zM182.3,61.7h0.9v0.9h-0.9zM183.3,63.7h0.9v0.9h-0.9zM187.2,71.1h0.9v0.9h-0.9zM182.9,76.5h0.9v0.9h-0.9zM190.8,58.9h0.9v0.9h-0.9z" fill="#6a78e8" fill-opacity="0.5" filter="url(#bd)"/>
<path d="M162.7,57.9h0.9v0.9h-0.9zM168.8,44.2h0.9v0.9h-0.9zM165.9,44.1h0.9v0.9h-0.9zM172.7,48.6h0.9v0.9h-0.9zM167.1,40.8h0.9v0.9h-0.9zM165.5,52.3h0.9v0.9h-0.9zM165.5,44.0h0.9v0.9h-0.9zM168.4,46.0h0.9v0.9h-0.9zM171.3,55.8h0.9v0.9h-0.9zM162.1,33.9h0.9v0.9h-0.9zM168.6,42.6h0.9v0.9h-0.9zM163.5,56.6h0.9v0.9h-0.9zM162.0,34.1h0.9v0.9h-0.9zM177.4,47.7h0.9v0.9h-0.9zM161.0,52.5h0.9v0.9h-0.9zM163.9,41.7h0.9v0.9h-0.9zM166.9,44.7h0.9v0.9h-0.9zM177.4,39.4h0.9v0.9h-0.9zM163.7,36.9h0.9v0.9h-0.9zM167.5,37.5h0.9v0.9h-0.9zM168.3,55.1h0.9v0.9h-0.9zM168.9,41.0h0.9v0.9h-0.9zM166.5,50.3h0.9v0.9h-0.9zM163.2,38.6h0.9v0.9h-0.9zM165.2,46.9h0.9v0.9h-0.9zM174.1,39.4h0.9v0.9h-0.9zM166.6,40.4h0.9v0.9h-0.9zM169.1,45.2h0.9v0.9h-0.9zM171.3,45.5h0.9v0.9h-0.9zM174.5,43.9h0.9v0.9h-0.9zM168.4,48.0h0.9v0.9h-0.9zM168.8,45.1h0.9v0.9h-0.9zM171.0,49.8h0.9v0.9h-0.9zM170.0,49.2h0.9v0.9h-0.9zM166.1,42.4h0.9v0.9h-0.9zM173.7,54.1h0.9v0.9h-0.9zM166.7,54.7h0.9v0.9h-0.9zM166.3,55.6h0.9v0.9h-0.9zM172.0,45.3h0.9v0.9h-0.9zM170.7,40.6h0.9v0.9h-0.9zM165.7,41.4h0.9v0.9h-0.9zM172.1,49.6h0.9v0.9h-0.9zM166.7,45.5h0.9v0.9h-0.9zM162.8,43.7h0.9v0.9h-0.9zM162.7,54.1h0.9v0.9h-0.9zM171.9,40.4h0.9v0.9h-0.9zM165.1,56.3h0.9v0.9h-0.9zM168.3,36.6h0.9v0.9h-0.9zM164.5,40.8h0.9v0.9h-0.9zM167.0,35.9h0.9v0.9h-0.9zM170.7,40.4h0.9v0.9h-0.9zM177.2,50.7h0.9v0.9h-0.9zM160.3,38.5h0.9v0.9h-0.9zM161.6,55.8h0.9v0.9h-0.9zM164.2,40.2h0.9v0.9h-0.9zM169.1,47.7h0.9v0.9h-0.9zM168.5,51.1h0.9v0.9h-0.9zM164.6,53.5h0.9v0.9h-0.9zM174.2,42.8h0.9v0.9h-0.9zM167.6,44.1h0.9v0.9h-0.9z" fill="#5060e6" fill-opacity="0.4" filter="url(#bd)"/>
<path d="M149,33 L152,31.3 L170,31.3 L171,34 L165,44 L161,53 L161,79 L154.3,79 L154.5,60 L155,55 L151,45 L148.5,38 Z" fill="#2436de" fill-opacity="1" filter="url(#b1)"/>
<path d="M150.8,38.5 A4.7,5.64 0 0 1 160.2,38.5 C160.2,45.475 158.10999999999999,50.9 156.7,54 C155.29,50.9 150.8,45.475 150.8,38.5 Z" fill="#4cc8f0" fill-opacity="1" filter="url(#b1)"/>
<path d="M151.9,38.6 A3.4,4.08 0 0 1 158.70000000000002,38.6 C158.70000000000002,42.83 156.92000000000002,46.12 155.9,48 C154.88,46.12 151.9,42.83 151.9,38.6 Z" fill="#78e468" fill-opacity="1" filter="url(#b1)"/>
<ellipse cx="155.5" cy="40.6" rx="2.5" ry="3.7" fill="#f0f03c" fill-opacity="1" filter="url(#b1)"/>
<ellipse cx="155.5" cy="40.2" rx="1.7" ry="2.6" fill="#f8b030" fill-opacity="0.8" filter="url(#b1)"/>
<ellipse cx="155.4" cy="39.8" rx="1.4" ry="1.9" fill="#d8260f" fill-opacity="1" filter="url(#b05)"/>
<ellipse cx="157.5" cy="67.5" rx="2.4" ry="11.5" fill="#4cc8f0" fill-opacity="1" filter="url(#b1)"/>
<ellipse cx="157.5" cy="69" rx="1.4" ry="8.5" fill="#78e468" fill-opacity="1" filter="url(#b1)"/>
</g>
<rect x="17" y="21.2" width="58.3" height="57.8" fill="none" stroke="#111" stroke-width="1.25"/>
<text x="20.7" y="28.7" font-size="7.8" text-anchor="start" font-weight="normal" font-style="normal" >DAY 2</text>
<rect x="81.8" y="21.2" width="58.3" height="57.8" fill="none" stroke="#111" stroke-width="1.25"/>
<text x="84.6" y="28.7" font-size="7.8" text-anchor="start" font-weight="normal" font-style="normal" >DAY 3</text>
<rect x="146" y="21.2" width="58.3" height="57.8" fill="none" stroke="#111" stroke-width="1.25"/>
<text x="149.2" y="28.7" font-size="7.8" text-anchor="start" font-weight="normal" font-style="normal" >DAY 5</text>
<rect x="45.3" y="38" width="12.3" height="15.3" fill="none" stroke="#111" stroke-width="1"/>
<rect x="45.2" y="58.1" width="15.1" height="17.3" fill="none" stroke="#111" stroke-width="1"/>
<rect x="110.2" y="37.7" width="12.3" height="15.7" fill="none" stroke="#111" stroke-width="1"/>
<rect x="110.2" y="58.1" width="14.7" height="18.1" fill="none" stroke="#111" stroke-width="1"/>
<rect x="175.2" y="37.7" width="12.6" height="15.2" fill="none" stroke="#111" stroke-width="1"/>
<rect x="181.3" y="58.1" width="10.2" height="18.1" fill="none" stroke="#111" stroke-width="1"/>
<text x="61" y="47.8" font-size="7.2" text-anchor="start" font-weight="normal" font-style="normal" style="stroke-width:0.05px">i</text>
<text x="64" y="69.9" font-size="7.2" text-anchor="start" font-weight="normal" font-style="normal" style="stroke-width:0.05px">ii</text>
<text transform="translate(13.5,79.6) rotate(-90)" font-size="10">CD115</text>
<line x1="9.1" y1="44" x2="9.1" y2="27" stroke="#111" stroke-width="1.3" />
<path d="M9.1,22.8 L6.1,28.6 L12.1,28.6 Z" fill="#111"/>
<text x="17.2" y="91.9" font-size="9.8" text-anchor="start" font-weight="normal" font-style="normal" >Gr-1</text>
<line x1="42.3" y1="89" x2="196" y2="89" stroke="#111" stroke-width="1.45" />
<path d="M201.3,89 L194.3,85.6 L194.3,92.4 Z" fill="#111"/>
<text x="26.8" y="111.7" font-size="8" text-anchor="start" font-weight="normal" font-style="normal" style="stroke-width:0.08px">i: Ly-6C<tspan dy="-2.2" font-size="4.6">hi</tspan><tspan dy="2.2"> monocytes</tspan></text>
<text x="122" y="111.7" font-size="8" text-anchor="start" font-weight="normal" font-style="normal" style="stroke-width:0.08px">ii: Neutrophils</text>
<line x1="267.5" y1="16" x2="267.5" y2="76.6" stroke="#111" stroke-width="1.35" />
<line x1="267" y1="76" x2="358" y2="76" stroke="#111" stroke-width="1.35" />
<line x1="264" y1="26.0" x2="267.5" y2="26.0" stroke="#111" stroke-width="1.35" />
<text x="263.3" y="29.2" font-size="9.3" text-anchor="end" font-weight="normal" font-style="normal" >1.0</text>
<line x1="264" y1="51.0" x2="267.5" y2="51.0" stroke="#111" stroke-width="1.35" />
<text x="263.3" y="54.2" font-size="9.3" text-anchor="end" font-weight="normal" font-style="normal" >0.5</text>
<line x1="264" y1="76.0" x2="267.5" y2="76.0" stroke="#111" stroke-width="1.35" />
<text x="263.3" y="79.2" font-size="9.3" text-anchor="end" font-weight="normal" font-style="normal" >0.0</text>
<rect x="271.8" y="29.0" width="20.8" height="47.0" fill="#080808" />
<line x1="282.2" y1="29.0" x2="282.2" y2="23.0" stroke="#111" stroke-width="1.3" />
<line x1="276.9" y1="23.0" x2="287.5" y2="23.0" stroke="#111" stroke-width="1.4" />
<line x1="282.2" y1="76" x2="282.2" y2="79" stroke="#111" stroke-width="1.35" />
<text x="282.2" y="88.6" font-size="9.5" text-anchor="middle" font-weight="normal" font-style="normal" >2</text>
<rect x="302.1" y="58.0" width="20.8" height="18.0" fill="#080808" />
<line x1="312.5" y1="58.0" x2="312.5" y2="54.5" stroke="#111" stroke-width="1.3" />
<line x1="307.2" y1="54.5" x2="317.8" y2="54.5" stroke="#111" stroke-width="1.4" />
<line x1="312.5" y1="76" x2="312.5" y2="79" stroke="#111" stroke-width="1.35" />
<text x="312.5" y="88.6" font-size="9.5" text-anchor="middle" font-weight="normal" font-style="normal" >3</text>
<rect x="331.90000000000003" y="74.0" width="20.8" height="2.0" fill="#080808" />
<line x1="342.3" y1="76" x2="342.3" y2="79" stroke="#111" stroke-width="1.35" />
<text x="342.3" y="88.6" font-size="9.5" text-anchor="middle" font-weight="normal" font-style="normal" >5</text>
<text transform="translate(228.6,45.9) rotate(-90)" font-size="10" text-anchor="middle">Neutrophils</text>
<text transform="translate(243,45.8) rotate(-90)" font-size="10.3" text-anchor="middle">(10<tspan dy="-4" font-size="7">6</tspan><tspan dy="4"> per cavity)</tspan></text>
<text x="312" y="104" font-size="10" text-anchor="middle" font-weight="normal" font-style="normal" >Days after peritonitis</text>
<text x="312" y="115.5" font-size="10" text-anchor="middle" font-weight="normal" font-style="normal" >induction</text>
<line x1="427" y1="15.5" x2="427" y2="37.3" stroke="#111" stroke-width="1.35" />
<line x1="427" y1="46.3" x2="427" y2="76.6" stroke="#111" stroke-width="1.35" />
<line x1="426.5" y1="76" x2="515" y2="76" stroke="#111" stroke-width="1.35" />
<line x1="423" y1="15.5" x2="427" y2="15.5" stroke="#111" stroke-width="1.35" />
<line x1="423" y1="37.3" x2="427" y2="37.3" stroke="#111" stroke-width="1.35" />
<line x1="423" y1="46.3" x2="427" y2="46.3" stroke="#111" stroke-width="1.35" />
<line x1="423" y1="76" x2="427" y2="76" stroke="#111" stroke-width="1.35" />
<text x="422" y="20" font-size="9" text-anchor="end" font-weight="normal" font-style="normal" >1.5</text>
<text x="422" y="40.5" font-size="9" text-anchor="end" font-weight="normal" font-style="normal" >0.5</text>
<text x="422" y="50.8" font-size="9" text-anchor="end" font-weight="normal" font-style="normal" >0.1</text>
<text x="422" y="79.2" font-size="9" text-anchor="end" font-weight="normal" font-style="normal" >0.0</text>
<rect x="431.4" y="24.1" width="20.3" height="13.6" fill="#080808" />
<rect x="431.4" y="45.9" width="20.3" height="30.1" fill="#080808" />
<line x1="442.4" y1="24.1" x2="442.4" y2="19.6" stroke="#111" stroke-width="1.3" />
<line x1="436.3" y1="19.6" x2="447" y2="19.6" stroke="#111" stroke-width="1.4" />
<rect x="461" y="65" width="21" height="11" fill="#080808" />
<line x1="471.5" y1="65" x2="471.5" y2="62.5" stroke="#111" stroke-width="1.3" />
<line x1="467" y1="62.5" x2="476" y2="62.5" stroke="#111" stroke-width="1.4" />
<rect x="491" y="73" width="21" height="3" fill="#080808" />
<line x1="441.5" y1="76" x2="441.5" y2="79" stroke="#111" stroke-width="1.35" />
<text x="441.5" y="88.6" font-size="9.5" text-anchor="middle" font-weight="normal" font-style="normal" >2</text>
<line x1="471.5" y1="76" x2="471.5" y2="79" stroke="#111" stroke-width="1.35" />
<text x="471.5" y="88.6" font-size="9.5" text-anchor="middle" font-weight="normal" font-style="normal" >3</text>
<line x1="501.5" y1="76" x2="501.5" y2="79" stroke="#111" stroke-width="1.35" />
<text x="501.5" y="88.6" font-size="9.5" text-anchor="middle" font-weight="normal" font-style="normal" >5</text>
<text transform="translate(389.5,44.6) rotate(-90)" font-size="9.85" text-anchor="middle">Ly-6C<tspan dy="-4" font-size="6.8">hi</tspan><tspan dy="4"> monocytes</tspan></text>
<text transform="translate(402.5,46.1) rotate(-90)" font-size="10.3" text-anchor="middle">(10<tspan dy="-4" font-size="7">6</tspan><tspan dy="4"> per cavity)</tspan></text>
<text x="473" y="104" font-size="10" text-anchor="middle" font-weight="normal" font-style="normal" >Days after peritonitis</text>
<text x="473" y="115.5" font-size="10" text-anchor="middle" font-weight="normal" font-style="normal" >induction</text>
<line x1="43.75" y1="153.5" x2="43.75" y2="215.1" stroke="#111" stroke-width="1.35" />
<line x1="43.2" y1="214.5" x2="164.5" y2="214.5" stroke="#111" stroke-width="1.35" />
<line x1="40" y1="214.5" x2="43.75" y2="214.5" stroke="#111" stroke-width="1.35" />
<text x="39.3" y="217.7" font-size="8.6" text-anchor="end" font-weight="normal" font-style="normal" >0</text>
<line x1="40" y1="194.5" x2="43.75" y2="194.5" stroke="#111" stroke-width="1.35" />
<text x="39.3" y="197.7" font-size="8.6" text-anchor="end" font-weight="normal" font-style="normal" >4</text>
<line x1="40" y1="174.5" x2="43.75" y2="174.5" stroke="#111" stroke-width="1.35" />
<text x="39.3" y="177.7" font-size="8.6" text-anchor="end" font-weight="normal" font-style="normal" >8</text>
<line x1="40" y1="154.5" x2="43.75" y2="154.5" stroke="#111" stroke-width="1.35" />
<text x="39.3" y="157.7" font-size="8.6" text-anchor="end" font-weight="normal" font-style="normal" >12</text>
<line x1="60.75" y1="214.5" x2="60.75" y2="217.5" stroke="#111" stroke-width="1.35" />
<text x="60.75" y="227.4" font-size="9" text-anchor="middle" font-weight="normal" font-style="normal" >3</text>
<line x1="95.15" y1="214.5" x2="95.15" y2="217.5" stroke="#111" stroke-width="1.35" />
<text x="95.15" y="227.4" font-size="9" text-anchor="middle" font-weight="normal" font-style="normal" >5</text>
<line x1="129.55" y1="214.5" x2="129.55" y2="217.5" stroke="#111" stroke-width="1.35" />
<text x="129.55" y="227.4" font-size="9" text-anchor="middle" font-weight="normal" font-style="normal" >7</text>
<line x1="163.95" y1="214.5" x2="163.95" y2="217.5" stroke="#111" stroke-width="1.35" />
<text x="163.95" y="227.4" font-size="9" text-anchor="middle" font-weight="normal" font-style="normal" >9</text>
<polyline fill="none" stroke="#111" stroke-width="1.6" points="60.75,168.75 95.15,163.00 112.35,176.75 129.55,186.25 146.75,180.50"/>
<line x1="60.75" y1="172.25" x2="60.75" y2="165.25" stroke="#111" stroke-width="1.35" />
<line x1="58.25" y1="172.25" x2="63.25" y2="172.25" stroke="#111" stroke-width="1.35" />
<line x1="58.25" y1="165.25" x2="63.25" y2="165.25" stroke="#111" stroke-width="1.35" />
<path d="M60.75,166.15 L63.05,168.75 L60.75,171.35 L58.45,168.75 Z" fill="#111"/>
<line x1="95.15" y1="167.0" x2="95.15" y2="159.0" stroke="#111" stroke-width="1.35" />
<line x1="92.65" y1="167.0" x2="97.65" y2="167.0" stroke="#111" stroke-width="1.35" />
<line x1="92.65" y1="159.0" x2="97.65" y2="159.0" stroke="#111" stroke-width="1.35" />
<path d="M95.15,160.4 L97.45,163.0 L95.15,165.6 L92.85000000000001,163.0 Z" fill="#111"/>
<line x1="112.35" y1="180.5" x2="112.35" y2="173.0" stroke="#111" stroke-width="1.35" />
<line x1="109.85" y1="180.5" x2="114.85" y2="180.5" stroke="#111" stroke-width="1.35" />
<line x1="109.85" y1="173.0" x2="114.85" y2="173.0" stroke="#111" stroke-width="1.35" />
<path d="M112.35,174.15 L114.64999999999999,176.75 L112.35,179.35 L110.05,176.75 Z" fill="#111"/>
<line x1="129.55" y1="191.25" x2="129.55" y2="181.25" stroke="#111" stroke-width="1.35" />
<line x1="127.05000000000001" y1="191.25" x2="132.05" y2="191.25" stroke="#111" stroke-width="1.35" />
<line x1="127.05000000000001" y1="181.25" x2="132.05" y2="181.25" stroke="#111" stroke-width="1.35" />
<path d="M129.55,183.65 L131.85000000000002,186.25 L129.55,188.85 L127.25000000000001,186.25 Z" fill="#111"/>
<line x1="146.75" y1="185.25" x2="146.75" y2="175.75" stroke="#111" stroke-width="1.35" />
<line x1="144.25" y1="185.25" x2="149.25" y2="185.25" stroke="#111" stroke-width="1.35" />
<line x1="144.25" y1="175.75" x2="149.25" y2="175.75" stroke="#111" stroke-width="1.35" />
<path d="M146.75,177.9 L149.05,180.5 L146.75,183.1 L144.45,180.5 Z" fill="#111"/>
<polyline fill="none" stroke="#111" stroke-width="1.35" points="60.9,153.6 94.3,153.6"/>
<polyline fill="none" stroke="#111" stroke-width="1.35" points="77.3,153.6 77.3,144.1 131.4,144.1 131.4,164.6"/>
<line x1="112.6" y1="164.6" x2="146.4" y2="164.6" stroke="#111" stroke-width="1.4" />
<text x="104.1" y="141.4" font-size="8.5" text-anchor="middle" font-weight="normal" font-style="normal" ><tspan font-style="italic">P</tspan>=0.001</text>
<text transform="translate(12.2,184) rotate(-90)" font-size="10" text-anchor="middle">Annexin-V+</text>
<text transform="translate(24.9,186) rotate(-90)" font-size="10" text-anchor="middle">inflammatory M&#981; (%)</text>
<text x="103.5" y="241.2" font-size="10" text-anchor="middle" font-weight="normal" font-style="normal" >Days after peritonitis</text>
<text x="103.5" y="252.7" font-size="10" text-anchor="middle" font-weight="normal" font-style="normal" >induction</text>
<line x1="223.25" y1="155" x2="223.25" y2="215.2" stroke="#111" stroke-width="1.35" />
<line x1="222.75" y1="214.5" x2="343" y2="214.5" stroke="#111" stroke-width="1.35" />
<line x1="218.55" y1="166.25" x2="223.25" y2="166.25" stroke="#111" stroke-width="1.35" />
<text x="218.35" y="169.85" font-size="9.3" text-anchor="end" font-weight="normal" font-style="normal" >1.0</text>
<line x1="218.55" y1="190.375" x2="223.25" y2="190.375" stroke="#111" stroke-width="1.35" />
<text x="218.35" y="193.975" font-size="9.3" text-anchor="end" font-weight="normal" font-style="normal" >0.5</text>
<line x1="218.55" y1="214.5" x2="223.25" y2="214.5" stroke="#111" stroke-width="1.35" />
<text x="218.35" y="218.1" font-size="9.3" text-anchor="end" font-weight="normal" font-style="normal" >0.0</text>
<line x1="238.75" y1="214.5" x2="238.75" y2="217.5" stroke="#111" stroke-width="1.35" />
<line x1="269" y1="214.5" x2="269" y2="217.5" stroke="#111" stroke-width="1.35" />
<line x1="298.75" y1="214.5" x2="298.75" y2="217.5" stroke="#111" stroke-width="1.35" />
<line x1="329.5" y1="214.5" x2="329.5" y2="217.5" stroke="#111" stroke-width="1.35" />
<text transform="translate(241.55,225.6) rotate(-45)" font-size="9.3" text-anchor="end">injected</text>
<text transform="translate(271.8,225.6) rotate(-45)" font-size="9.3" text-anchor="end">recovered</text>
<text transform="translate(301.55,225.6) rotate(-45)" font-size="9.3" text-anchor="end">injected</text>
<text transform="translate(332.3,225.6) rotate(-45)" font-size="9.3" text-anchor="end">recovered</text>
<line x1="228.3" y1="166" x2="236" y2="166" stroke="#111" stroke-width="1.3" />
<circle cx="233" cy="166" r="1.6" fill="#fff" stroke="#111" stroke-width="1.05"/>
<circle cx="235.8" cy="165.6" r="1.6" fill="#fff" stroke="#111" stroke-width="1.05"/>
<circle cx="238.7" cy="166.9" r="1.6" fill="#fff" stroke="#111" stroke-width="1.05"/>
<circle cx="241.6" cy="166.2" r="1.6" fill="#fff" stroke="#111" stroke-width="1.05"/>
<circle cx="244.3" cy="166.5" r="1.6" fill="#fff" stroke="#111" stroke-width="1.05"/>
<circle cx="246.8" cy="164.9" r="1.6" fill="#fff" stroke="#111" stroke-width="1.05"/>
<line x1="257.8" y1="187.9" x2="278.5" y2="187.9" stroke="#111" stroke-width="1.3" />
<circle cx="263.5" cy="183.8" r="2.2" fill="#111"/>
<circle cx="268.7" cy="185.6" r="2.2" fill="#111"/>
<circle cx="274.5" cy="183.8" r="2.2" fill="#111"/>
<circle cx="263.5" cy="191.3" r="2.2" fill="#111"/>
<circle cx="268.7" cy="192.8" r="2.2" fill="#111"/>
<circle cx="274.5" cy="192.5" r="2.2" fill="#111"/>
<line x1="288.3" y1="165.7" x2="295" y2="165.7" stroke="#111" stroke-width="1.3" />
<circle cx="293.5" cy="166" r="1.6" fill="#fff" stroke="#111" stroke-width="1.05"/>
<circle cx="296.1" cy="165.1" r="1.6" fill="#fff" stroke="#111" stroke-width="1.05"/>
<circle cx="299.1" cy="167.1" r="1.6" fill="#fff" stroke="#111" stroke-width="1.05"/>
<circle cx="301.8" cy="166.2" r="1.6" fill="#fff" stroke="#111" stroke-width="1.05"/>
<circle cx="304.5" cy="166.5" r="1.6" fill="#fff" stroke="#111" stroke-width="1.05"/>
<circle cx="307" cy="164.6" r="1.6" fill="#fff" stroke="#111" stroke-width="1.05"/>
<line x1="318.3" y1="186.4" x2="325" y2="186.4" stroke="#111" stroke-width="1.3" />
<circle cx="323.5" cy="187.9" r="2.2" fill="#111"/>
<circle cx="325.8" cy="185.9" r="2.2" fill="#111"/>
<circle cx="328.7" cy="188.4" r="2.2" fill="#111"/>
<circle cx="331.6" cy="186.4" r="2.2" fill="#111"/>
<circle cx="334.5" cy="187.6" r="2.2" fill="#111"/>
<circle cx="337.1" cy="185.2" r="2.2" fill="#111"/>
<polyline fill="none" stroke="#111" stroke-width="1.4" points="237.6,158.2 237.6,154.6 269.9,154.6 269.9,158.2"/>
<text x="253.75" y="148.4" font-size="8.5" text-anchor="middle" font-weight="normal" font-style="normal" ><tspan font-style="italic">P</tspan>&lt;0.001</text>
<polyline fill="none" stroke="#111" stroke-width="1.4" points="298.8,158.2 298.8,154.6 330.5,154.6 330.5,158.2"/>
<text x="314.65" y="148.4" font-size="8.5" text-anchor="middle" font-weight="normal" font-style="normal" ><tspan font-style="italic">P</tspan>&lt;0.001</text>
<text x="255.5" y="208.5" font-size="8.9" text-anchor="middle" font-weight="normal" font-style="normal" >MHC-II<tspan dy="-3.2" font-size="5.5">+</tspan></text>
<text x="315.5" y="208.5" font-size="8.9" text-anchor="middle" font-weight="normal" font-style="normal" >MHC-II<tspan dy="-3.2" font-size="5.5">-</tspan></text>
<text transform="translate(191.2,184) rotate(-90)" font-size="10" text-anchor="middle">Ratio WT/M&#981;-hBcl2<tspan dy="-3.5" font-size="6.5">Tg</tspan></text>
<text transform="translate(199.5,185) rotate(-90)" font-size="8.4" text-anchor="middle">(normalized to WT/WT)</text>
<line x1="398.75" y1="153.75" x2="398.75" y2="215.2" stroke="#111" stroke-width="1.35" />
<line x1="398.25" y1="214.5" x2="515" y2="214.5" stroke="#111" stroke-width="1.35" />
<line x1="394.05" y1="166.0" x2="398.75" y2="166.0" stroke="#111" stroke-width="1.35" />
<text x="393.85" y="169.6" font-size="9.3" text-anchor="end" font-weight="normal" font-style="normal" >1.0</text>
<line x1="394.05" y1="190.25" x2="398.75" y2="190.25" stroke="#111" stroke-width="1.35" />
<text x="393.85" y="193.85" font-size="9.3" text-anchor="end" font-weight="normal" font-style="normal" >0.5</text>
<line x1="394.05" y1="214.5" x2="398.75" y2="214.5" stroke="#111" stroke-width="1.35" />
<text x="393.85" y="218.1" font-size="9.3" text-anchor="end" font-weight="normal" font-style="normal" >0.0</text>
<line x1="413.25" y1="214.5" x2="413.25" y2="217.5" stroke="#111" stroke-width="1.35" />
<line x1="443.25" y1="214.5" x2="443.25" y2="217.5" stroke="#111" stroke-width="1.35" />
<line x1="473.75" y1="214.5" x2="473.75" y2="217.5" stroke="#111" stroke-width="1.35" />
<line x1="503.75" y1="214.5" x2="503.75" y2="217.5" stroke="#111" stroke-width="1.35" />
<text transform="translate(416.05,225.6) rotate(-45)" font-size="9.3" text-anchor="end">injected</text>
<text transform="translate(446.05,225.6) rotate(-45)" font-size="9.3" text-anchor="end">recovered</text>
<text transform="translate(476.55,225.6) rotate(-45)" font-size="9.3" text-anchor="end">injected</text>
<text transform="translate(506.55,225.6) rotate(-45)" font-size="9.3" text-anchor="end">recovered</text>
<line x1="402.6" y1="166" x2="411" y2="166" stroke="#111" stroke-width="1.3" />
<circle cx="408.5" cy="166" r="1.6" fill="#fff" stroke="#111" stroke-width="1.05"/>
<circle cx="411.2" cy="166.2" r="1.6" fill="#fff" stroke="#111" stroke-width="1.05"/>
<circle cx="413.9" cy="165.8" r="1.6" fill="#fff" stroke="#111" stroke-width="1.05"/>
<circle cx="416.6" cy="166.3" r="1.6" fill="#fff" stroke="#111" stroke-width="1.05"/>
<circle cx="419.4" cy="165.8" r="1.6" fill="#fff" stroke="#111" stroke-width="1.05"/>
<circle cx="422.1" cy="166" r="1.6" fill="#fff" stroke="#111" stroke-width="1.05"/>
<line x1="433.2" y1="188.8" x2="440" y2="188.8" stroke="#111" stroke-width="1.3" />
<circle cx="437.8" cy="189.6" r="2.2" fill="#111"/>
<circle cx="440.7" cy="186.7" r="2.2" fill="#111"/>
<circle cx="443.6" cy="191.7" r="2.2" fill="#111"/>
<circle cx="445.9" cy="189" r="2.2" fill="#111"/>
<circle cx="448.7" cy="190.8" r="2.2" fill="#111"/>
<circle cx="451.6" cy="186.4" r="2.2" fill="#111"/>
<line x1="462.6" y1="166" x2="471" y2="166" stroke="#111" stroke-width="1.3" />
<circle cx="468.5" cy="166" r="1.6" fill="#fff" stroke="#111" stroke-width="1.05"/>
<circle cx="471.2" cy="166.2" r="1.6" fill="#fff" stroke="#111" stroke-width="1.05"/>
<circle cx="473.9" cy="165.8" r="1.6" fill="#fff" stroke="#111" stroke-width="1.05"/>
<circle cx="476.6" cy="166.3" r="1.6" fill="#fff" stroke="#111" stroke-width="1.05"/>
<circle cx="479.4" cy="165.8" r="1.6" fill="#fff" stroke="#111" stroke-width="1.05"/>
<circle cx="482.1" cy="166" r="1.6" fill="#fff" stroke="#111" stroke-width="1.05"/>
<line x1="493.2" y1="177.5" x2="500" y2="177.5" stroke="#111" stroke-width="1.3" />
<circle cx="497.8" cy="178.6" r="2.2" fill="#111"/>
<circle cx="500.7" cy="175.5" r="2.2" fill="#111"/>
<circle cx="503.6" cy="180.4" r="2.2" fill="#111"/>
<circle cx="506.5" cy="178.1" r="2.2" fill="#111"/>
<circle cx="508.8" cy="179.8" r="2.2" fill="#111"/>
<circle cx="511.6" cy="175.8" r="2.2" fill="#111"/>
<polyline fill="none" stroke="#111" stroke-width="1.4" points="412.5,152.79999999999998 412.5,149.2 444.9,149.2 444.9,152.79999999999998"/>
<text x="428.7" y="143.5" font-size="8.5" text-anchor="middle" font-weight="normal" font-style="normal" ><tspan font-style="italic">P</tspan>&lt;0.001</text>
<polyline fill="none" stroke="#111" stroke-width="1.4" points="473.3,152.79999999999998 473.3,149.2 505.5,149.2 505.5,152.79999999999998"/>
<text x="489.4" y="143.5" font-size="8.5" text-anchor="middle" font-weight="normal" font-style="normal" ><tspan font-style="italic">P</tspan>&lt;0.001</text>
<text x="429.2" y="209" font-size="8.3" text-anchor="middle" font-weight="normal" font-style="normal" >MHC-II<tspan dy="-3.2" font-size="5.5">+</tspan></text>
<text x="489.6" y="209" font-size="8.3" text-anchor="middle" font-weight="normal" font-style="normal" >MHC-II<tspan dy="-3.2" font-size="5.5">-</tspan></text>
<text transform="translate(369.5,184.9) rotate(-90)" font-size="10" text-anchor="middle">Ratio WT/Bim<tspan dy="-3.5" font-size="6.5">-/-</tspan></text>
<text transform="translate(376.3,185.2) rotate(-90)" font-size="8.4" text-anchor="middle">(normalized to WT/WT)</text>
<line x1="43.2" y1="303.15" x2="43.2" y2="364.35" stroke="#111" stroke-width="1.35" />
<line x1="42.6" y1="363.75" x2="164.5" y2="363.75" stroke="#111" stroke-width="1.35" />
<line x1="39.5" y1="363.75" x2="43.2" y2="363.75" stroke="#111" stroke-width="1.35" />
<text x="38.8" y="367.05" font-size="8.6" text-anchor="end" font-weight="normal" font-style="normal" >0</text>
<line x1="39.5" y1="343.75" x2="43.2" y2="343.75" stroke="#111" stroke-width="1.35" />
<text x="38.8" y="347.05" font-size="8.6" text-anchor="end" font-weight="normal" font-style="normal" >10</text>
<line x1="39.5" y1="323.75" x2="43.2" y2="323.75" stroke="#111" stroke-width="1.35" />
<text x="38.8" y="327.05" font-size="8.6" text-anchor="end" font-weight="normal" font-style="normal" >20</text>
<line x1="39.5" y1="303.75" x2="43.2" y2="303.75" stroke="#111" stroke-width="1.35" />
<text x="38.8" y="307.05" font-size="8.6" text-anchor="end" font-weight="normal" font-style="normal" >30</text>
<line x1="51.75" y1="363.75" x2="51.75" y2="366.8" stroke="#111" stroke-width="1.35" />
<text x="51.75" y="376.9" font-size="9" text-anchor="middle" font-weight="normal" font-style="normal" >0</text>
<line x1="83.75" y1="363.75" x2="83.75" y2="366.8" stroke="#111" stroke-width="1.35" />
<text x="83.75" y="376.9" font-size="9" text-anchor="middle" font-weight="normal" font-style="normal" >4</text>
<line x1="115.75" y1="363.75" x2="115.75" y2="366.8" stroke="#111" stroke-width="1.35" />
<text x="115.75" y="376.9" font-size="9" text-anchor="middle" font-weight="normal" font-style="normal" >8</text>
<line x1="147.75" y1="363.75" x2="147.75" y2="366.8" stroke="#111" stroke-width="1.35" />
<text x="147.75" y="376.9" font-size="9" text-anchor="middle" font-weight="normal" font-style="normal" >12</text>
<polyline fill="none" stroke="#111" stroke-width="1.45" stroke-dasharray="1.9,1.5" points="59.75,342.55 75.75,312.95 91.75,321.35 115.75,334.15 147.75,344.55"/>
<polyline fill="none" stroke="#111" stroke-width="1.7" points="59.75,338.95 75.75,309.95 91.75,308.55 115.75,324.25 147.75,336.25"/>
<line x1="59.75" y1="344.55" x2="59.75" y2="340.55" stroke="#111" stroke-width="1.35" />
<line x1="57.15" y1="344.55" x2="62.35" y2="344.55" stroke="#111" stroke-width="1.3" />
<line x1="57.15" y1="340.55" x2="62.35" y2="340.55" stroke="#111" stroke-width="1.3" />
<circle cx="59.75" cy="342.55" r="1.8" fill="#fff" stroke="#111" stroke-width="1"/>
<line x1="75.75" y1="315.95" x2="75.75" y2="309.95" stroke="#111" stroke-width="1.35" />
<line x1="73.15" y1="315.95" x2="78.35" y2="315.95" stroke="#111" stroke-width="1.3" />
<line x1="73.15" y1="309.95" x2="78.35" y2="309.95" stroke="#111" stroke-width="1.3" />
<circle cx="75.75" cy="312.95" r="1.8" fill="#fff" stroke="#111" stroke-width="1"/>
<line x1="91.75" y1="323.95" x2="91.75" y2="318.75" stroke="#111" stroke-width="1.35" />
<line x1="89.15" y1="323.95" x2="94.35" y2="323.95" stroke="#111" stroke-width="1.3" />
<line x1="89.15" y1="318.75" x2="94.35" y2="318.75" stroke="#111" stroke-width="1.3" />
<circle cx="91.75" cy="321.35" r="1.8" fill="#fff" stroke="#111" stroke-width="1"/>
<line x1="115.75" y1="336.15" x2="115.75" y2="332.15" stroke="#111" stroke-width="1.35" />
<line x1="113.15" y1="336.15" x2="118.35" y2="336.15" stroke="#111" stroke-width="1.3" />
<line x1="113.15" y1="332.15" x2="118.35" y2="332.15" stroke="#111" stroke-width="1.3" />
<circle cx="115.75" cy="334.15" r="1.8" fill="#fff" stroke="#111" stroke-width="1"/>
<line x1="147.75" y1="345.55" x2="147.75" y2="343.55" stroke="#111" stroke-width="1.35" />
<line x1="145.15" y1="345.55" x2="150.35" y2="345.55" stroke="#111" stroke-width="1.3" />
<line x1="145.15" y1="343.55" x2="150.35" y2="343.55" stroke="#111" stroke-width="1.3" />
<circle cx="147.75" cy="344.55" r="1.8" fill="#fff" stroke="#111" stroke-width="1"/>
<line x1="59.75" y1="340.95" x2="59.75" y2="336.95" stroke="#111" stroke-width="1.35" />
<line x1="57.15" y1="340.95" x2="62.35" y2="340.95" stroke="#111" stroke-width="1.3" />
<line x1="57.15" y1="336.95" x2="62.35" y2="336.95" stroke="#111" stroke-width="1.3" />
<circle cx="59.75" cy="338.95" r="2.2" fill="#111"/>
<line x1="75.75" y1="314.35" x2="75.75" y2="305.55" stroke="#111" stroke-width="1.35" />
<line x1="73.15" y1="314.35" x2="78.35" y2="314.35" stroke="#111" stroke-width="1.3" />
<line x1="73.15" y1="305.55" x2="78.35" y2="305.55" stroke="#111" stroke-width="1.3" />
<circle cx="75.75" cy="309.95" r="2.2" fill="#111"/>
<line x1="91.75" y1="311.75" x2="91.75" y2="305.35" stroke="#111" stroke-width="1.35" />
<line x1="89.15" y1="311.75" x2="94.35" y2="311.75" stroke="#111" stroke-width="1.3" />
<line x1="89.15" y1="305.35" x2="94.35" y2="305.35" stroke="#111" stroke-width="1.3" />
<circle cx="91.75" cy="308.55" r="2.2" fill="#111"/>
<line x1="115.75" y1="326.25" x2="115.75" y2="322.25" stroke="#111" stroke-width="1.35" />
<line x1="113.15" y1="326.25" x2="118.35" y2="326.25" stroke="#111" stroke-width="1.3" />
<line x1="113.15" y1="322.25" x2="118.35" y2="322.25" stroke="#111" stroke-width="1.3" />
<circle cx="115.75" cy="324.25" r="2.2" fill="#111"/>
<line x1="147.75" y1="337.25" x2="147.75" y2="335.25" stroke="#111" stroke-width="1.35" />
<line x1="145.15" y1="337.25" x2="150.35" y2="337.25" stroke="#111" stroke-width="1.3" />
<line x1="145.15" y1="335.25" x2="150.35" y2="335.25" stroke="#111" stroke-width="1.3" />
<circle cx="147.75" cy="336.25" r="2.2" fill="#111"/>
<line x1="92" y1="300.6" x2="148.4" y2="300.6" stroke="#111" stroke-width="1.4" />
<text x="120.5" y="297.8" font-size="8.5" text-anchor="middle" font-weight="normal" font-style="normal" ><tspan font-style="italic">P</tspan>&lt;0.01</text>
<line x1="46.5" y1="354.4" x2="63" y2="354.4" stroke="#111" stroke-width="1.45" stroke-dasharray="1.9,1.5"/>
<circle cx="57" cy="354.4" r="1.8" fill="#fff" stroke="#111" stroke-width="1"/>
<text x="66" y="358" font-size="10" text-anchor="start" font-weight="normal" font-style="normal" >WT</text>
<line x1="92.5" y1="354.2" x2="108.7" y2="354.2" stroke="#111" stroke-width="1.7" />
<circle cx="102" cy="354.2" r="2.2" fill="#111"/>
<text x="112.5" y="358" font-size="10" text-anchor="start" font-weight="normal" font-style="normal" >M&#981;-hBcl2<tspan dy="-4" font-size="6.5">Tg</tspan></text>
<text transform="translate(9,333.6) rotate(-90)" font-size="9.65" text-anchor="middle">Inflammatory M&#981;</text>
<text transform="translate(23.3,333.9) rotate(-90)" font-size="10.25" text-anchor="middle">(10<tspan dy="-4.2" font-size="7.3">6</tspan><tspan dy="4.2"> per cavity)</tspan></text>
<text x="103.7" y="390.3" font-size="10" text-anchor="middle" font-weight="normal" font-style="normal" >Days after peritonitis</text>
<text x="103.7" y="401.8" font-size="10" text-anchor="middle" font-weight="normal" font-style="normal" >induction</text>
<rect x="196.0" y="299.0" width="20.19" height="8.12" fill="rgb(48,59,241)" />
<rect x="216.19" y="299.0" width="20.19" height="8.12" fill="rgb(48,59,241)" />
<rect x="236.38" y="299.0" width="20.19" height="8.12" fill="rgb(57,67,241)" />
<rect x="256.57" y="299.0" width="20.19" height="8.12" fill="rgb(232,233,253)" />
<rect x="276.76" y="299.0" width="20.19" height="8.12" fill="rgb(198,201,251)" />
<rect x="296.95" y="299.0" width="20.19" height="8.12" fill="rgb(255,255,255)" />
<rect x="317.14" y="299.0" width="20.19" height="8.12" fill="rgb(255,255,255)" />
<rect x="337.33" y="299.0" width="20.19" height="8.12" fill="rgb(228,229,253)" />
<rect x="357.52" y="299.0" width="20.19" height="8.12" fill="rgb(228,229,253)" />
<rect x="377.71" y="299.0" width="20.19" height="8.12" fill="rgb(249,229,228)" />
<rect x="397.9" y="299.0" width="20.19" height="8.12" fill="rgb(248,221,219)" />
<rect x="418.09" y="299.0" width="20.19" height="8.12" fill="rgb(250,234,232)" />
<rect x="196.0" y="307.12" width="20.19" height="8.12" fill="rgb(30,42,240)" />
<rect x="216.19" y="307.12" width="20.19" height="8.12" fill="rgb(30,42,240)" />
<rect x="236.38" y="307.12" width="20.19" height="8.12" fill="rgb(30,42,240)" />
<rect x="256.57" y="307.12" width="20.19" height="8.12" fill="rgb(246,246,254)" />
<rect x="276.76" y="307.12" width="20.19" height="8.12" fill="rgb(165,169,249)" />
<rect x="296.95" y="307.12" width="20.19" height="8.12" fill="rgb(255,255,255)" />
<rect x="317.14" y="307.12" width="20.19" height="8.12" fill="rgb(30,42,240)" />
<rect x="337.33" y="307.12" width="20.19" height="8.12" fill="rgb(30,42,240)" />
<rect x="357.52" y="307.12" width="20.19" height="8.12" fill="rgb(30,42,240)" />
<rect x="377.71" y="307.12" width="20.19" height="8.12" fill="rgb(30,42,240)" />
<rect x="397.9" y="307.12" width="20.19" height="8.12" fill="rgb(30,42,240)" />
<rect x="418.09" y="307.12" width="20.19" height="8.12" fill="rgb(30,42,240)" />
<rect x="196.0" y="315.24" width="20.19" height="8.12" fill="rgb(97,105,244)" />
<rect x="216.19" y="315.24" width="20.19" height="8.12" fill="rgb(97,105,244)" />
<rect x="236.38" y="315.24" width="20.19" height="8.12" fill="rgb(93,101,244)" />
<rect x="256.57" y="315.24" width="20.19" height="8.12" fill="rgb(86,95,243)" />
<rect x="276.76" y="315.24" width="20.19" height="8.12" fill="rgb(97,105,244)" />
<rect x="296.95" y="315.24" width="20.19" height="8.12" fill="rgb(93,101,244)" />
<rect x="317.14" y="315.24" width="20.19" height="8.12" fill="rgb(79,88,243)" />
<rect x="337.33" y="315.24" width="20.19" height="8.12" fill="rgb(79,88,243)" />
<rect x="357.52" y="315.24" width="20.19" height="8.12" fill="rgb(79,88,243)" />
<rect x="377.71" y="315.24" width="20.19" height="8.12" fill="rgb(93,101,244)" />
<rect x="397.9" y="315.24" width="20.19" height="8.12" fill="rgb(93,101,244)" />
<rect x="418.09" y="315.24" width="20.19" height="8.12" fill="rgb(93,101,244)" />
<rect x="196.0" y="323.36" width="20.19" height="8.12" fill="rgb(41,52,240)" />
<rect x="216.19" y="323.36" width="20.19" height="8.12" fill="rgb(41,52,240)" />
<rect x="236.38" y="323.36" width="20.19" height="8.12" fill="rgb(45,56,241)" />
<rect x="256.57" y="323.36" width="20.19" height="8.12" fill="rgb(41,52,240)" />
<rect x="276.76" y="323.36" width="20.19" height="8.12" fill="rgb(41,52,240)" />
<rect x="296.95" y="323.36" width="20.19" height="8.12" fill="rgb(41,52,240)" />
<rect x="317.14" y="323.36" width="20.19" height="8.12" fill="rgb(149,154,247)" />
<rect x="337.33" y="323.36" width="20.19" height="8.12" fill="rgb(149,154,247)" />
<rect x="357.52" y="323.36" width="20.19" height="8.12" fill="rgb(149,154,247)" />
<rect x="377.71" y="323.36" width="20.19" height="8.12" fill="rgb(255,255,255)" />
<rect x="397.9" y="323.36" width="20.19" height="8.12" fill="rgb(255,255,255)" />
<rect x="418.09" y="323.36" width="20.19" height="8.12" fill="rgb(254,250,250)" />
<rect x="196.0" y="331.48" width="20.19" height="8.12" fill="rgb(246,213,210)" />
<rect x="216.19" y="331.48" width="20.19" height="8.12" fill="rgb(246,213,210)" />
<rect x="236.38" y="331.48" width="20.19" height="8.12" fill="rgb(246,213,210)" />
<rect x="256.57" y="331.48" width="20.19" height="8.12" fill="rgb(216,66,54)" />
<rect x="276.76" y="331.48" width="20.19" height="8.12" fill="rgb(218,74,63)" />
<rect x="296.95" y="331.48" width="20.19" height="8.12" fill="rgb(213,51,38)" />
<rect x="317.14" y="331.48" width="20.19" height="8.12" fill="rgb(237,171,165)" />
<rect x="337.33" y="331.48" width="20.19" height="8.12" fill="rgb(239,177,172)" />
<rect x="357.52" y="331.48" width="20.19" height="8.12" fill="rgb(228,124,116)" />
<rect x="377.71" y="331.48" width="20.19" height="8.12" fill="rgb(231,139,132)" />
<rect x="397.9" y="331.48" width="20.19" height="8.12" fill="rgb(229,129,121)" />
<rect x="418.09" y="331.48" width="20.19" height="8.12" fill="rgb(232,145,139)" />
<rect x="196.0" y="339.6" width="20.19" height="8.12" fill="rgb(251,236,234)" />
<rect x="216.19" y="339.6" width="20.19" height="8.12" fill="rgb(248,225,223)" />
<rect x="236.38" y="339.6" width="20.19" height="8.12" fill="rgb(248,225,223)" />
<rect x="256.57" y="339.6" width="20.19" height="8.12" fill="rgb(248,225,223)" />
<rect x="276.76" y="339.6" width="20.19" height="8.12" fill="rgb(227,120,112)" />
<rect x="296.95" y="339.6" width="20.19" height="8.12" fill="rgb(236,166,161)" />
<rect x="317.14" y="339.6" width="20.19" height="8.12" fill="rgb(229,129,121)" />
<rect x="337.33" y="339.6" width="20.19" height="8.12" fill="rgb(244,202,199)" />
<rect x="357.52" y="339.6" width="20.19" height="8.12" fill="rgb(251,238,237)" />
<rect x="377.71" y="339.6" width="20.19" height="8.12" fill="rgb(225,112,103)" />
<rect x="397.9" y="339.6" width="20.19" height="8.12" fill="rgb(227,120,112)" />
<rect x="418.09" y="339.6" width="20.19" height="8.12" fill="rgb(222,97,87)" />
<rect x="196.0" y="347.72" width="20.19" height="8.12" fill="rgb(30,42,240)" />
<rect x="216.19" y="347.72" width="20.19" height="8.12" fill="rgb(30,42,240)" />
<rect x="236.38" y="347.72" width="20.19" height="8.12" fill="rgb(30,42,240)" />
<rect x="256.57" y="347.72" width="20.19" height="8.12" fill="rgb(115,122,245)" />
<rect x="276.76" y="347.72" width="20.19" height="8.12" fill="rgb(106,114,245)" />
<rect x="296.95" y="347.72" width="20.19" height="8.12" fill="rgb(115,122,245)" />
<rect x="317.14" y="347.72" width="20.19" height="8.12" fill="rgb(30,42,240)" />
<rect x="337.33" y="347.72" width="20.19" height="8.12" fill="rgb(30,42,240)" />
<rect x="357.52" y="347.72" width="20.19" height="8.12" fill="rgb(30,42,240)" />
<rect x="377.71" y="347.72" width="20.19" height="8.12" fill="rgb(30,42,240)" />
<rect x="397.9" y="347.72" width="20.19" height="8.12" fill="rgb(30,42,240)" />
<rect x="418.09" y="347.72" width="20.19" height="8.12" fill="rgb(30,42,240)" />
<rect x="196.0" y="355.84" width="20.19" height="8.12" fill="rgb(30,42,240)" />
<rect x="216.19" y="355.84" width="20.19" height="8.12" fill="rgb(30,42,240)" />
<rect x="236.38" y="355.84" width="20.19" height="8.12" fill="rgb(97,105,244)" />
<rect x="256.57" y="355.84" width="20.19" height="8.12" fill="rgb(230,133,125)" />
<rect x="276.76" y="355.84" width="20.19" height="8.12" fill="rgb(216,66,54)" />
<rect x="296.95" y="355.84" width="20.19" height="8.12" fill="rgb(214,55,43)" />
<rect x="317.14" y="355.84" width="20.19" height="8.12" fill="rgb(149,154,247)" />
<rect x="337.33" y="355.84" width="20.19" height="8.12" fill="rgb(131,137,246)" />
<rect x="357.52" y="355.84" width="20.19" height="8.12" fill="rgb(192,195,250)" />
<rect x="377.71" y="355.84" width="20.19" height="8.12" fill="rgb(252,244,243)" />
<rect x="397.9" y="355.84" width="20.19" height="8.12" fill="rgb(251,238,237)" />
<rect x="418.09" y="355.84" width="20.19" height="8.12" fill="rgb(249,229,228)" />
<rect x="196.0" y="363.96" width="20.19" height="8.12" fill="rgb(30,42,240)" />
<rect x="216.19" y="363.96" width="20.19" height="8.12" fill="rgb(30,42,240)" />
<rect x="236.38" y="363.96" width="20.19" height="8.12" fill="rgb(30,42,240)" />
<rect x="256.57" y="363.96" width="20.19" height="8.12" fill="rgb(255,255,255)" />
<rect x="276.76" y="363.96" width="20.19" height="8.12" fill="rgb(237,237,253)" />
<rect x="296.95" y="363.96" width="20.19" height="8.12" fill="rgb(255,255,255)" />
<rect x="317.14" y="363.96" width="20.19" height="8.12" fill="rgb(93,101,244)" />
<rect x="337.33" y="363.96" width="20.19" height="8.12" fill="rgb(97,105,244)" />
<rect x="357.52" y="363.96" width="20.19" height="8.12" fill="rgb(93,101,244)" />
<rect x="377.71" y="363.96" width="20.19" height="8.12" fill="rgb(231,139,132)" />
<rect x="397.9" y="363.96" width="20.19" height="8.12" fill="rgb(229,129,121)" />
<rect x="418.09" y="363.96" width="20.19" height="8.12" fill="rgb(232,145,139)" />
<rect x="196.0" y="372.08" width="20.19" height="8.12" fill="rgb(30,42,240)" />
<rect x="216.19" y="372.08" width="20.19" height="8.12" fill="rgb(30,42,240)" />
<rect x="236.38" y="372.08" width="20.19" height="8.12" fill="rgb(30,42,240)" />
<rect x="256.57" y="372.08" width="20.19" height="8.12" fill="rgb(36,48,240)" />
<rect x="276.76" y="372.08" width="20.19" height="8.12" fill="rgb(36,48,240)" />
<rect x="296.95" y="372.08" width="20.19" height="8.12" fill="rgb(36,48,240)" />
<rect x="317.14" y="372.08" width="20.19" height="8.12" fill="rgb(30,42,240)" />
<rect x="337.33" y="372.08" width="20.19" height="8.12" fill="rgb(30,42,240)" />
<rect x="357.52" y="372.08" width="20.19" height="8.12" fill="rgb(30,42,240)" />
<rect x="377.71" y="372.08" width="20.19" height="8.12" fill="rgb(30,42,240)" />
<rect x="397.9" y="372.08" width="20.19" height="8.12" fill="rgb(30,42,240)" />
<rect x="418.09" y="372.08" width="20.19" height="8.12" fill="rgb(30,42,240)" />
<rect x="196.0" y="380.2" width="20.19" height="8.12" fill="rgb(253,248,248)" />
<rect x="216.19" y="380.2" width="20.19" height="8.12" fill="rgb(253,248,248)" />
<rect x="236.38" y="380.2" width="20.19" height="8.12" fill="rgb(232,233,253)" />
<rect x="256.57" y="380.2" width="20.19" height="8.12" fill="rgb(251,240,239)" />
<rect x="276.76" y="380.2" width="20.19" height="8.12" fill="rgb(251,240,239)" />
<rect x="296.95" y="380.2" width="20.19" height="8.12" fill="rgb(251,240,239)" />
<rect x="317.14" y="380.2" width="20.19" height="8.12" fill="rgb(253,246,246)" />
<rect x="337.33" y="380.2" width="20.19" height="8.12" fill="rgb(252,242,241)" />
<rect x="357.52" y="380.2" width="20.19" height="8.12" fill="rgb(225,227,253)" />
<rect x="377.71" y="380.2" width="20.19" height="8.12" fill="rgb(251,238,237)" />
<rect x="397.9" y="380.2" width="20.19" height="8.12" fill="rgb(250,234,232)" />
<rect x="418.09" y="380.2" width="20.19" height="8.12" fill="rgb(251,238,237)" />
<rect x="196.0" y="388.32" width="20.19" height="8.12" fill="rgb(187,191,250)" />
<rect x="216.19" y="388.32" width="20.19" height="8.12" fill="rgb(194,197,250)" />
<rect x="236.38" y="388.32" width="20.19" height="8.12" fill="rgb(232,233,253)" />
<rect x="256.57" y="388.32" width="20.19" height="8.12" fill="rgb(252,242,241)" />
<rect x="276.76" y="388.32" width="20.19" height="8.12" fill="rgb(251,238,237)" />
<rect x="296.95" y="388.32" width="20.19" height="8.12" fill="rgb(248,223,221)" />
<rect x="317.14" y="388.32" width="20.19" height="8.12" fill="rgb(246,213,210)" />
<rect x="337.33" y="388.32" width="20.19" height="8.12" fill="rgb(246,213,210)" />
<rect x="357.52" y="388.32" width="20.19" height="8.12" fill="rgb(246,213,210)" />
<rect x="377.71" y="388.32" width="20.19" height="8.12" fill="rgb(246,213,210)" />
<rect x="397.9" y="388.32" width="20.19" height="8.12" fill="rgb(246,213,210)" />
<rect x="418.09" y="388.32" width="20.19" height="8.12" fill="rgb(244,204,201)" />
<rect x="196.0" y="396.44" width="20.19" height="8.12" fill="rgb(247,217,214)" />
<rect x="216.19" y="396.44" width="20.19" height="8.12" fill="rgb(247,217,214)" />
<rect x="236.38" y="396.44" width="20.19" height="8.12" fill="rgb(250,234,232)" />
<rect x="256.57" y="396.44" width="20.19" height="8.12" fill="rgb(249,229,228)" />
<rect x="276.76" y="396.44" width="20.19" height="8.12" fill="rgb(252,242,241)" />
<rect x="296.95" y="396.44" width="20.19" height="8.12" fill="rgb(250,234,232)" />
<rect x="317.14" y="396.44" width="20.19" height="8.12" fill="rgb(251,238,237)" />
<rect x="337.33" y="396.44" width="20.19" height="8.12" fill="rgb(251,238,237)" />
<rect x="357.52" y="396.44" width="20.19" height="8.12" fill="rgb(247,217,214)" />
<rect x="377.71" y="396.44" width="20.19" height="8.12" fill="rgb(251,238,237)" />
<rect x="397.9" y="396.44" width="20.19" height="8.12" fill="rgb(251,238,237)" />
<rect x="418.09" y="396.44" width="20.19" height="8.12" fill="rgb(250,234,232)" />
<line x1="195.5" y1="299.0" x2="438.78000000000003" y2="299.0" stroke="#151515" stroke-width="1.1" />
<line x1="195.5" y1="307.12" x2="438.78000000000003" y2="307.12" stroke="#151515" stroke-width="1.1" />
<line x1="195.5" y1="315.24" x2="438.78000000000003" y2="315.24" stroke="#151515" stroke-width="1.1" />
<line x1="195.5" y1="323.36" x2="438.78000000000003" y2="323.36" stroke="#151515" stroke-width="1.1" />
<line x1="195.5" y1="331.48" x2="438.78000000000003" y2="331.48" stroke="#151515" stroke-width="1.1" />
<line x1="195.5" y1="339.6" x2="438.78000000000003" y2="339.6" stroke="#151515" stroke-width="1.1" />
<line x1="195.5" y1="347.72" x2="438.78000000000003" y2="347.72" stroke="#151515" stroke-width="1.1" />
<line x1="195.5" y1="355.84" x2="438.78000000000003" y2="355.84" stroke="#151515" stroke-width="1.1" />
<line x1="195.5" y1="363.96" x2="438.78000000000003" y2="363.96" stroke="#151515" stroke-width="1.1" />
<line x1="195.5" y1="372.08" x2="438.78000000000003" y2="372.08" stroke="#151515" stroke-width="1.1" />
<line x1="195.5" y1="380.2" x2="438.78000000000003" y2="380.2" stroke="#151515" stroke-width="1.1" />
<line x1="195.5" y1="388.32" x2="438.78000000000003" y2="388.32" stroke="#151515" stroke-width="1.1" />
<line x1="195.5" y1="396.44" x2="438.78000000000003" y2="396.44" stroke="#151515" stroke-width="1.1" />
<line x1="195.5" y1="404.56" x2="438.78000000000003" y2="404.56" stroke="#151515" stroke-width="1.1" />
<line x1="196.0" y1="298.5" x2="196.0" y2="405.06" stroke="#151515" stroke-width="1.1" />
<line x1="216.19" y1="298.5" x2="216.19" y2="405.06" stroke="#151515" stroke-width="1.1" />
<line x1="236.38" y1="298.5" x2="236.38" y2="405.06" stroke="#151515" stroke-width="1.1" />
<line x1="256.57" y1="298.5" x2="256.57" y2="405.06" stroke="#151515" stroke-width="1.1" />
<line x1="276.76" y1="298.5" x2="276.76" y2="405.06" stroke="#151515" stroke-width="1.1" />
<line x1="296.95" y1="298.5" x2="296.95" y2="405.06" stroke="#151515" stroke-width="1.1" />
<line x1="317.14" y1="298.5" x2="317.14" y2="405.06" stroke="#151515" stroke-width="1.1" />
<line x1="337.33000000000004" y1="298.5" x2="337.33000000000004" y2="405.06" stroke="#151515" stroke-width="1.1" />
<line x1="357.52" y1="298.5" x2="357.52" y2="405.06" stroke="#151515" stroke-width="1.1" />
<line x1="377.71000000000004" y1="298.5" x2="377.71000000000004" y2="405.06" stroke="#151515" stroke-width="1.1" />
<line x1="397.9" y1="298.5" x2="397.9" y2="405.06" stroke="#151515" stroke-width="1.1" />
<line x1="418.09000000000003" y1="298.5" x2="418.09000000000003" y2="405.06" stroke="#151515" stroke-width="1.1" />
<line x1="438.28000000000003" y1="298.5" x2="438.28000000000003" y2="405.06" stroke="#151515" stroke-width="1.1" />
<text x="442.8" y="305.5" font-size="8.2" text-anchor="start" font-weight="normal" font-style="italic" style="stroke-width:0.08px">Mertk</text>
<text x="442.8" y="313.62" font-size="8.2" text-anchor="start" font-weight="normal" font-style="italic" style="stroke-width:0.08px">Timd4</text>
<text x="442.8" y="321.74" font-size="8.2" text-anchor="start" font-weight="normal" font-style="italic" style="stroke-width:0.08px">Itgav</text>
<text x="442.8" y="329.86" font-size="8.2" text-anchor="start" font-weight="normal" font-style="italic" style="stroke-width:0.08px">Itgb5</text>
<text x="442.8" y="337.98" font-size="8.2" text-anchor="start" font-weight="normal" font-style="italic" style="stroke-width:0.08px">Cd36</text>
<text x="442.8" y="346.1" font-size="8.2" text-anchor="start" font-weight="normal" font-style="italic" style="stroke-width:0.08px">Lrp1</text>
<text x="442.8" y="354.22" font-size="8.2" text-anchor="start" font-weight="normal" font-style="italic" style="stroke-width:0.08px">Tgm2</text>
<text x="442.8" y="362.34" font-size="8.2" text-anchor="start" font-weight="normal" font-style="italic" style="stroke-width:0.08px">Thbs1</text>
<text x="442.8" y="370.46" font-size="8.2" text-anchor="start" font-weight="normal" font-style="italic" style="stroke-width:0.08px">Mfge8</text>
<text x="442.8" y="378.58" font-size="8.2" text-anchor="start" font-weight="normal" font-style="italic" style="stroke-width:0.08px">Il10</text>
<text x="442.8" y="386.7" font-size="8.2" text-anchor="start" font-weight="normal" font-style="italic" style="stroke-width:0.08px">Tgfb1</text>
<text x="442.8" y="394.82" font-size="8.2" text-anchor="start" font-weight="normal" font-style="italic" style="stroke-width:0.08px">Pla2g7</text>
<text x="442.8" y="402.94" font-size="8.2" text-anchor="start" font-weight="normal" font-style="italic" style="stroke-width:0.08px">Ptges3</text>
<text x="225.3" y="291.3" font-size="10.3" text-anchor="middle" font-weight="normal" font-style="normal" >F4/80<tspan dy="-3.3" font-size="6.6">lo</tspan><tspan dy="3.3"> M&#981;</tspan></text>
<line x1="198" y1="295.8" x2="252.5" y2="295.8" stroke="#111" stroke-width="1.35" />
<text x="285.3" y="291.3" font-size="10.3" text-anchor="middle" font-weight="normal" font-style="normal" >F4/80<tspan dy="-3.3" font-size="6.6">hi</tspan><tspan dy="3.3"> M&#981;</tspan></text>
<line x1="258.5" y1="295.8" x2="313" y2="295.8" stroke="#111" stroke-width="1.35" />
<text x="347.3" y="278.8" font-size="10.3" text-anchor="middle" font-weight="normal" font-style="normal" >F4/80<tspan dy="-3.3" font-size="6.6">int</tspan></text>
<text x="347.2" y="290.6" font-size="10.3" text-anchor="middle" font-weight="normal" font-style="normal" >MHC-II<tspan dy="-3.3" font-size="6.6">+</tspan><tspan dy="3.3"> M&#981;</tspan></text>
<line x1="321.3" y1="296.2" x2="374.5" y2="296.2" stroke="#111" stroke-width="1.35" />
<text x="407.3" y="278.8" font-size="10.3" text-anchor="middle" font-weight="normal" font-style="normal" >F4/80<tspan dy="-3.3" font-size="6.6">int</tspan></text>
<text x="406.5" y="290.6" font-size="10.3" text-anchor="middle" font-weight="normal" font-style="normal" >MHC-II<tspan dy="-3.3" font-size="6.6">-</tspan><tspan dy="3.3"> M&#981;</tspan></text>
<line x1="381.3" y1="296.2" x2="435" y2="296.2" stroke="#111" stroke-width="1.35" />
<defs><linearGradient id="cb" x1="0" y1="0" x2="0" y2="1"><stop offset="0" stop-color="rgb(200,55,45)"/><stop offset="0.5" stop-color="#fff"/><stop offset="1" stop-color="rgb(45,55,225)"/></linearGradient></defs>
<rect x="488.5" y="307.3" width="8.5" height="89" fill="url(#cb)" />
<text transform="translate(501,307.5) rotate(90)" font-size="8.2" text-anchor="start" style="stroke-width:0.05px">5900</text>
<text transform="translate(501,353.2) rotate(90)" font-size="8.2" text-anchor="start" style="stroke-width:0.05px">1300</text>
<text transform="translate(501,387.4) rotate(90)" font-size="8.2" text-anchor="start" style="stroke-width:0.05px">12</text>
</svg></body></html>
